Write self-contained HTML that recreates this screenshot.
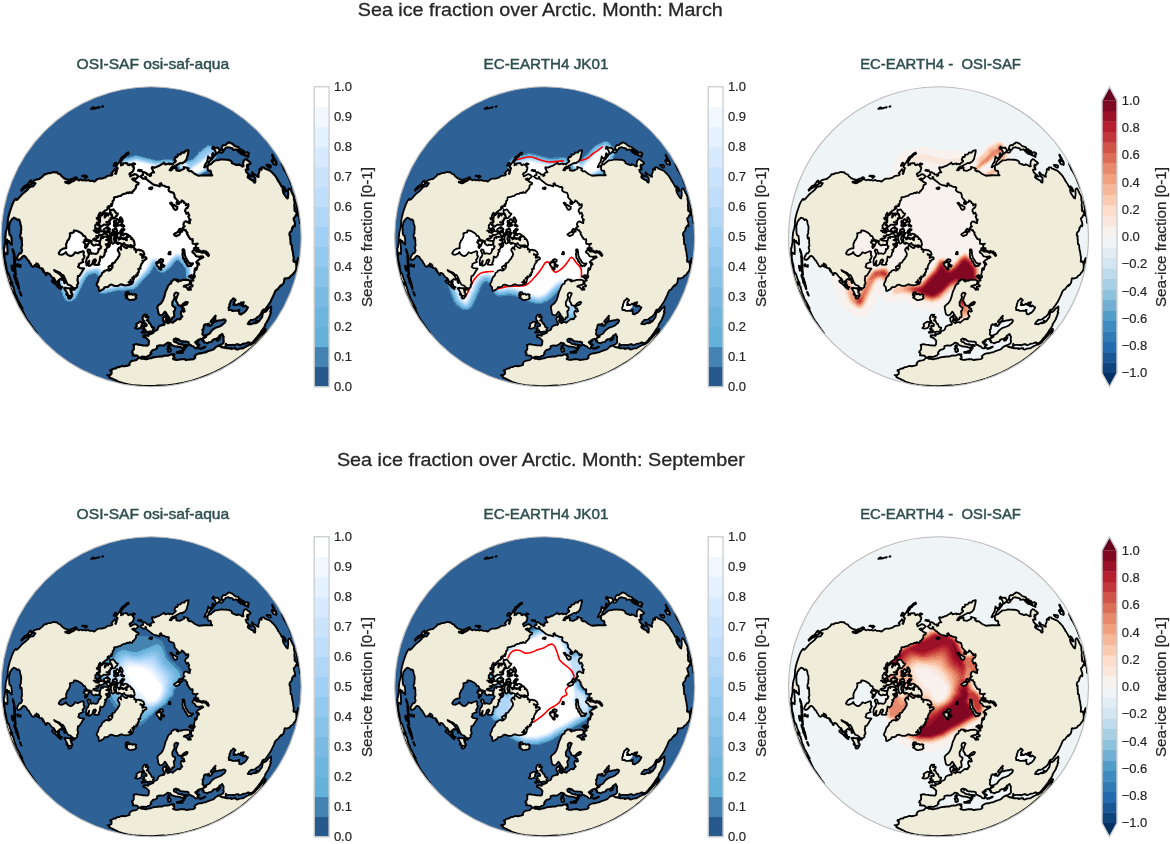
<!DOCTYPE html><html><head><meta charset="utf-8"><title>Sea ice fraction over Arctic</title>
<style>html,body{margin:0;padding:0;background:#fff}svg{display:block}text{font-family:"Liberation Sans",sans-serif;fill:#262626}.t{font-size:18.6px;stroke:#262626;stroke-width:.3px}.p{font-size:15px;fill:#2f4f4f;stroke:#2f4f4f;stroke-width:.45px}.k{font-size:13px;stroke:#262626;stroke-width:.2px}.l{font-size:14.5px;stroke:#262626;stroke-width:.25px}</style></head><body>
<svg width="1170" height="844" viewBox="0 0 1170 844">
<defs><clipPath id="cc"><circle r="150"/></clipPath>
<path id="land" fill-rule="evenodd" d="M-147.8,25.8L-147.7,26L-147.1,28.9L-146.8,30.1L-146.2,32.4L-145.9,33.2L-145.8,32.3L-145.4,32.5L-145.5,31.2L-145.6,30.4L-145.5,29.9L-145.2,30.6L-145.3,29.3L-145.5,28L-145.8,26.8L-146.3,25.3L-146.7,24.8L-146.9,23.5L-146.8,23L-146.9,21.4L-147.3,18.6L-147.4,18.4L-147.4,16.8L-147.4,16.3L-147.2,13.9L-147.4,12.6L-147.4,11.1L-147.1,10.8L-146.8,11L-146.6,9L-146.1,5.9L-145.9,5.4L-146,3.8L-145.9,0.5L-145.6,-1.5L-145.6,-3L-145.1,-5.6L-144.2,-8.6L-143.6,-11.8L-143.4,-16.6L-142.7,-20.1L-141.6,-24.2L-140,-29L-138.5,-33.2L-136.8,-36.4L-135.3,-38L-135,-36.9L-133.7,-37.3L-132.3,-38.9L-128.8,-42.8L-126.8,-44.4L-125.7,-45.3L-124.1,-46.6L-121.6,-49.6L-119.8,-50.3L-118,-50.3L-115.7,-53.5L-117.8,-54.2L-120.1,-52.5L-122.3,-51.4L-124.6,-49.3L-125.9,-49.1L-127.4,-48.1L-128.3,-47.2L-129.8,-46L-129.9,-47L-129.1,-47.8L-126.8,-50.5L-125.4,-51.2L-124.7,-51.2L-122.8,-53.4L-121.5,-55.4L-120.3,-56.3L-120.1,-54L-118.7,-55.1L-116.6,-56.6L-114.1,-57.4L-112.6,-57.6L-111.8,-57.7L-109.8,-59.4L-108.5,-60.4L-106.8,-62.6L-105.5,-62.4L-103,-63.6L-101.7,-63.6L-100.2,-63.9L-99,-64.3L-97.1,-64.8L-95.7,-64.3L-94.4,-64.6L-93.5,-63.5L-92.2,-62.7L-90.7,-62.3L-89.8,-60.8L-88.5,-59.7L-87.3,-58.6L-84.9,-57.5L-82.2,-56.9L-84.1,-54.8L-86,-55L-85.8,-54.3L-82.7,-53.3L-81.8,-53.6L-79.1,-55.2L-77.7,-55.7L-75.3,-57.6L-73.3,-57.2L-72.4,-56.3L-70.4,-57.2L-68.9,-56.4L-66.6,-56.8L-65.7,-56.2L-64.5,-56.3L-63.1,-56.8L-61.5,-55.8L-58.9,-55.9L-56.9,-55.2L-55.9,-55.9L-54.3,-57.4L-52.6,-58.1L-49,-58.2L-45.4,-59.4L-44.1,-60.7L-41.3,-61.2L-39.6,-61.3L-38.7,-62.4L-39.8,-63.6L-38.2,-65.3L-36.4,-67.6L-35.1,-64.5L-36,-63.2L-35.4,-62.8L-34.6,-64.8L-34.4,-66.4L-33.5,-68.6L-34.8,-69.2L-34.5,-71.4L-32.5,-74L-30.9,-76.8L-29.5,-79.4L-27.4,-80.6L-25.3,-82.9L-22.9,-84.3L-22.4,-83.1L-25.1,-81.6L-26.3,-79.9L-27.9,-79.1L-28.3,-78.1L-29.7,-76.1L-30.5,-74.4L-30,-72.9L-30.3,-71.3L-29,-72.6L-28.3,-71.9L-28,-73.4L-25.4,-73.7L-23.9,-73.5L-23.6,-72.1L-22.6,-71.5L-21.1,-72.5L-18.7,-71.4L-18.4,-70.1L-17.2,-69.5L-17.3,-68L-18,-66.6L-18,-65.4L-18.9,-64.9L-20.3,-63.8L-21.2,-63.5L-21.8,-62.5L-21.3,-61.7L-20.6,-61.5L-21,-60.3L-20.4,-60.5L-19.3,-61.4L-18.3,-61.7L-16.9,-62.6L-15.1,-62.3L-12.7,-60.4L-14,-59.1L-15.9,-57.4L-16.7,-57.2L-17,-58.4L-19.1,-57.7L-17.8,-56.6L-16.4,-56L-15.4,-55.1L-14.2,-54.4L-12.6,-53.8L-12.9,-52.4L-14.5,-52L-15.3,-50.5L-15.2,-49.3L-15.7,-48.1L-16.5,-47.5L-17.6,-45.8L-18.4,-45.8L-19,-43.9L-20.5,-44.1L-21.5,-44.7L-21.6,-44.1L-23,-43.6L-23.2,-44.1L-24.6,-43.9L-25.3,-43.2L-27.2,-42.9L-28.8,-42.2L-29.5,-42L-30.2,-40.9L-31.7,-40.7L-32.8,-40.4L-34.4,-39.7L-36.3,-39.6L-37.2,-39.2L-37.1,-37.9L-37.4,-36.6L-38.5,-35.8L-38.7,-34.1L-39,-32.5L-40.2,-32.7L-40.2,-31.9L-39.4,-30.9L-40,-30.6L-42.6,-30.7L-41.9,-28.7L-43.6,-29.7L-43.8,-28.6L-43.4,-27.8L-44.2,-27.1L-45.8,-26.3L-47.6,-24.9L-48.7,-23.9L-48.9,-23L-50.5,-22.4L-51,-24.1L-52.2,-22.7L-53,-20.1L-52.8,-19.1L-54.5,-18.7L-53.7,-17.3L-52.5,-17.9L-51.8,-17L-52.1,-15.9L-52.1,-15.1L-52.8,-14.4L-54.4,-13.9L-54.5,-12.8L-56,-11.4L-55.8,-9.7L-56.1,-8.3L-54.6,-8.3L-54.2,-7.3L-55.4,-5.9L-57.6,-6.2L-55.7,-5.4L-55.8,-4.6L-53.4,-3.9L-51.8,-4.8L-50.7,-5.8L-48,-5.4L-46.4,-4.2L-46.7,-3.2L-48,-2.4L-50.8,-1.3L-52,-2.2L-52.5,-0.5L-55,-0.6L-53,0.7L-54.7,1.9L-56.4,1.7L-58.1,2.6L-56.3,3.6L-54.1,4.2L-51.4,4L-51.5,5.3L-51.6,6.7L-52.7,8.1L-53.8,8.3L-55.4,7.8L-56.5,8.6L-57.7,8.7L-59.6,7L-60,5.6L-59.4,4.4L-60.6,4.1L-62.8,3.3L-63.8,3L-65.5,1.7L-65.8,0.1L-66.7,-0.8L-68.1,-1L-68.5,-2.3L-70.3,-3.9L-72.8,-5.3L-74.5,-6L-77.2,-6.3L-77.6,-4.3L-79.8,-3.9L-81.4,-3.3L-81,-1.3L-81.9,1.4L-82.7,2.9L-83.8,4L-84.3,5.7L-85.1,7.4L-85,9.8L-85,11.5L-86.8,11.6L-88.8,12.3L-90.9,13.7L-92.5,16.5L-91.7,17.7L-89.3,18L-86.4,16.6L-85.3,15.3L-84,17.6L-82.2,18.8L-80.5,19.3L-79,18.8L-77.3,17.4L-76.1,15.5L-73.4,16.5L-71.5,15.5L-68.2,14.4L-67.4,15.1L-67.6,17.2L-67.5,18.5L-66.7,19.4L-67.1,20.6L-68,22.5L-68.7,23.1L-67.9,25.3L-69.9,26L-72.3,27.3L-72.2,28.6L-73.1,30.1L-71.1,31.4L-68.3,31.6L-67.1,31.9L-68.5,33.7L-70.1,36.5L-71.8,39.1L-73.3,39.3L-73.4,41.5L-73.8,43.3L-73.1,45.7L-73.1,46.9L-74.2,48.4L-74,49.5L-74.1,50.4L-76.1,51.9L-77.3,51.3L-78.6,50.8L-80.6,48.8L-83.2,48L-84.7,45.6L-86,42.2L-87.1,39.9L-88,38.4L-89.8,37.8L-91.4,36L-94.8,34.6L-97.1,33.3L-96.3,34.5L-93,36.2L-90.1,39L-88.9,41.3L-89.1,43.1L-90.9,42.2L-92.6,43.6L-93.7,44.7L-93.5,47.2L-91.7,49.8L-89,50.4L-90.1,51.2L-90.2,52.5L-92.3,51.2L-95.3,47.9L-96.7,46.7L-98.9,45.3L-99.3,44L-97.9,43.2L-95.2,45.6L-96.4,42.9L-97.5,41.2L-98,41.6L-99.5,40.2L-100.8,38.5L-102,36.9L-103.3,36.4L-103.8,36.1L-104.8,36.5L-105.4,37.3L-105.1,38.1L-104.7,37.7L-104.8,38.4L-105.4,38.4L-106,37.3L-106.3,36.4L-107.1,35L-107.9,33.2L-108.8,31.8L-107.6,34.6L-107.8,35.2L-109.1,32.7L-109.5,31.4L-109.8,31.5L-111,31.4L-112.7,30.4L-112.3,30.1L-112.1,29L-112.8,29.6L-113,30.1L-113.6,30.2L-114.4,29.8L-115.9,29.1L-115.8,28.9L-114.7,29.2L-114.3,28.1L-113,27.5L-113.8,27.3L-114.7,28L-114.8,26.6L-115,28L-116.4,28.4L-116.4,29.1L-116.8,29.3L-118.2,30.1L-119.7,29L-120.6,27L-121.8,25.7L-122,24.6L-122.8,23.7L-123.3,23.5L-124.7,21.3L-125.6,20.1L-126.6,19.4L-127.6,19.1L-128.4,19.6L-129.3,20.5L-130,21.8L-130.6,21.9L-131.8,23L-133,23.2L-133.8,22.6L-134,22L-134.1,20.8L-133.5,19.5L-132.8,18.2L-132,16.9L-131.5,16.4L-130.6,16.7L-130.1,16.2L-129.2,14.3L-129.1,13.3L-129.9,11.1L-129.9,10.7L-129.3,9.5L-129.1,8.1L-129.4,5.6L-129.3,3.6L-129.5,1.8L-129.6,0.9L-130,1.4L-130.5,1.4L-130.8,1.8L-130.9,1.4L-130.8,0.5L-131.1,-0.5L-131,-2.1L-130.2,-3.6L-130.3,-5.7L-130,-7.3L-130,-8.6L-130.1,-10.7L-130.9,-12.8L-131.2,-15.2L-131.7,-16.4L-132.1,-17.2L-132.9,-17.3L-133.5,-17.1L-133.9,-16.7L-134.8,-17.7L-135.5,-18.3L-136.9,-18.8L-137.4,-19.1L-137.9,-18.6L-138.5,-18L-139.3,-17.6L-140.1,-16L-140.7,-15.5L-141.2,-14.6L-141.7,-11.9L-142.2,-10.9L-142.1,-8.7L-142.1,-6.9L-142,-5L-141.9,-3.5L-141.6,-2L-141,-1.2L-140.3,-1.2L-140,-0.7L-139.8,1L-139.5,3.7L-139.5,5.6L-139.4,7.1L-139.5,7.8L-140,7.8L-140.5,6.4L-141.2,5.9L-141.3,6.4L-141.7,5.9L-142.3,5.5L-142.2,4.7L-142.2,4.2L-142.5,4.7L-142.9,4.2L-143.4,4.5L-143.8,4L-144.2,2.8L-144.3,4.5L-144.1,6L-144.1,7.8L-143.8,10.1L-143.8,12.1L-143.6,14.1L-143.8,15.6L-143.8,17.4L-144.3,17.2L-144.9,16.5L-145.6,16.6L-146,16.1L-146.3,15.9L-146.6,17L-146.6,19.3L-146.8,20.1L-146.6,21.4L-146.6,22.2L-146.3,23.4L-146.1,24.4L-145.7,26L-145.5,26.7L-145.2,28.2L-145,29.5L-144.9,30.5L-144.7,32.3L-144.4,33.9L-143.7,35.6L-143.4,36.6L-142.7,36.9L-142.1,38.3L-141.7,39.8L-141,42L-140.2,43.9L-139.7,44.9L-139.2,45.8L-138.8,46.7L-138.8,47.5L-139.1,47.1L-139.3,46.9L-139.8,45.7L-139.7,46.5L-140,46.6L-140.6,45.4L-140.6,46.5L-140.3,47.5L-139.7,48.1L-139.9,47.1L-139.6,47L-138.3,49.8L-138.2,49.5L-137.7,50.4L-137.8,51.2L-137.2,52.9L-136.8,54.7L-136.9,54.8L-136.1,56.9L-134.9,59.5L-134.5,60.8L-133.7,62.6L-132.9,64L-132.9,63.9L-131.4,66.7L-130,69.4L-131.1,67.7L-131,68.5L-130,70.3L-129.2,72.2L-129.3,72.6L-128.7,73.7L-128.3,74.6L-127.5,76.3L-126.9,77.7L-127,77.8L-126.4,78.7L-125.3,81L-123.6,83.7L-122.2,85.6L-120.7,87.8L-119.1,90.1L-117.5,92.5L-117.4,92.7L-116.8,93.5L-116.5,94L-115.7,95.4L-114.8,96.4L-114.7,96.6L-115.6,95.6L-114.9,96.4L-114.6,96.2L-119.5,90L-124.1,83.6L-128.3,77L-132.2,70.2L-135.7,63.1L-138.8,55.9L-141.6,48.5L-143.9,41L-145.9,33.4L-147.4,25.7ZM-52.3,54.1L-52.7,50.4L-54.5,48.5L-54.4,46.9L-53.2,44.8L-52.3,41.4L-51.3,40L-49.8,38.5L-49,36L-47.4,35.3L-47,34.2L-44.1,33.2L-42.6,33.9L-41.6,33.6L-40,32.5L-41.2,32.2L-41.9,32.1L-42.6,31.5L-42.7,30.2L-41.3,29.1L-40.1,28.7L-39.6,29.4L-38.9,31.1L-38.7,29L-38.5,28L-39.2,27.4L-39,26.5L-36.6,25.9L-36.1,25L-35.2,23.6L-33.3,21.4L-32.9,20.1L-32.1,19.6L-31.6,17.3L-32,16L-32.9,14.6L-33.5,13.2L-33.1,12.2L-32,10.8L-30.7,11.9L-30.1,12.9L-30.5,10.5L-29.9,9L-28.9,8.7L-27,10.2L-25.1,11.4L-24.1,11.1L-23.9,9.7L-22.8,9.6L-20.6,10.2L-20.1,10.6L-19,9.8L-18.1,10.3L-17.1,11L-16.5,11.9L-16.9,12.7L-15.3,12.6L-15.3,13.8L-15.2,14.4L-15.2,15.4L-14.9,13.9L-14.1,13.2L-12.2,12.9L-11.4,13.6L-10.6,13.3L-9.6,13.7L-7.7,15.1L-6.8,17.8L-7.8,18.5L-9,18L-10.8,17.3L-10.9,17.8L-9.6,18.2L-9,19.4L-8,19L-8.1,20.1L-9,21.1L-7.8,20.8L-5.8,20.3L-4.8,21.1L-4.8,22.2L-6.9,23.5L-7.3,24.1L-8.7,24L-7.8,24.6L-8.9,26.1L-9.8,27.4L-10.9,30.3L-10.7,32L-11.6,31.9L-12.9,32.3L-12.2,33.9L-12.9,36.1L-13.5,35.8L-13.5,38.3L-15,38L-14.6,39.2L-15.1,39.8L-16.3,39.9L-17.3,39.5L-17,41.5L-17.4,42.4L-18.5,40.9L-19.1,41.4L-18.3,42.3L-17.9,44.1L-18.4,46L-20,45.9L-20.2,44.7L-20.6,43.2L-21.1,44.7L-22.6,45.5L-20.4,46.5L-19.4,47.2L-22.4,48.1L-25.6,48.7L-28.6,48.1L-29.5,47.5L-30.8,47.8L-33.3,49.1L-36.2,49.2L-36.9,48.9L-38.3,48.4L-39.8,47.8L-41.6,48.4L-42.7,49.7L-44.1,50.4L-46.7,50.5L-47.6,52.2L-49.3,53.1L-51.4,54.3ZM-51.9,27.7L-53.5,28.2L-56.9,27.9L-56.6,26.3L-55.2,23.8L-55.9,22.6L-57.3,23L-58.2,24.6L-58.6,26.5L-58.9,27.1L-60.7,28.7L-62.4,29.1L-62.6,27.5L-62,24L-63.1,26.3L-63.8,28L-64.6,28.5L-65.1,25.1L-64.6,22.2L-63.9,20.5L-63.2,20.6L-62.6,18.7L-61.9,16.8L-62.5,17L-63.8,13.9L-63.1,12.7L-61.3,13.1L-60.8,15.2L-59.8,17.1L-59.2,16.6L-57.9,16.7L-55.3,17.2L-54.4,16.7L-53.6,16.1L-52.8,14.4L-52.6,12.2L-52,12.8L-50.5,11.4L-50.7,10.6L-49.9,9.7L-50.7,9.4L-51.4,7.9L-51.2,4.6L-50.5,2.6L-50.3,1.1L-49.3,0.4L-48.3,1.3L-48.3,0.1L-45.9,-0.2L-43.6,0.5L-42.6,1.2L-41.7,3.1L-43.3,2.6L-45,3.3L-42.9,3.8L-41.6,5.6L-44,7.3L-45.5,7.5L-44.6,8.8L-43.5,9.4L-44.4,11.4L-45.1,12.8L-46.3,13.2L-45.1,14.5L-46.5,15.8L-46.7,18.1L-47.3,19.2L-49,20.8L-50.8,19.7L-51.3,22.4L-51.3,24L-52.6,26.4ZM-61.5,5.2L-62.7,5.5L-62.2,6L-62.8,6.7L-63.4,8L-63.9,9.4L-65.1,9.6L-64.7,10.5L-65.5,11.4L-66.3,10.5L-66,8.7L-65,7.9L-66.3,6.9L-67.8,5.3L-66.5,4.8L-66.8,3.3L-65.6,4.2L-63.7,4.2L-61.6,4.4ZM-43,-11.8L-47.3,-12.2L-50.4,-9.8L-51.3,-10.1L-51.2,-11.5L-52.3,-11.2L-53.1,-11.7L-52.3,-13.2L-51.2,-14.6L-51.1,-15.7L-51.3,-17.7L-50.5,-21.7L-49.2,-21.7L-48,-22.6L-47.8,-23.4L-45.7,-23.6L-45.6,-22.9L-46,-21.6L-46.5,-20.4L-46.5,-19.2L-45.4,-20.5L-44.8,-22.3L-44.3,-23.4L-43.2,-23.3L-43.2,-21.2L-42.6,-22.4L-41.2,-23.2L-40,-21.8L-39.4,-20.9L-39,-18.4L-39.8,-17.9L-40.6,-18.7L-40.6,-16.8L-42.2,-16.2L-41.3,-15L-42.4,-14.6L-44.9,-14.7L-43.9,-14L-41.4,-13.8L-41.3,-13L-41.8,-12.4ZM-37.7,-27.3L-37.1,-26.5L-36,-25L-34.9,-23.5L-33.3,-23.2L-34.3,-21L-35.3,-20.5L-36.2,-18.9L-37.2,-18.6L-38.5,-18.3L-38.7,-19.5L-39.4,-22L-40.4,-23.8L-41.2,-24.3L-41.1,-26.8L-40.1,-26.6ZM-41.8,-6.8L-41.5,-5.4L-42.3,-5.3L-43.4,-6.1L-44.6,-5.1L-46.8,-5.5L-47.6,-7L-47.2,-7.7L-46.4,-8.2L-44,-9.8L-43.3,-9.6L-43.9,-8.1L-42,-8.5L-41.2,-7.6ZM-44.3,-2.5L-46.2,-3.5L-45.9,-4.3L-43.9,-4.6L-42.6,-4.5L-41.4,-4L-41,-3.2L-41.1,-1.7L-41.6,-0.4L-43.9,-1.5ZM-50.5,-7.3L-51.1,-6.5L-51.7,-6L-53.3,-5.2L-53.9,-6L-53,-7.1L-53.3,-7.9L-52,-9L-51.4,-8.1ZM-38.5,6.9L-39,6.5L-39.9,5.7L-39.6,4.7L-40.2,2.7L-40.3,1.3L-40.1,0.1L-39.3,-1.6L-37.8,-1.8L-36.5,-1.8L-35.4,-2.4L-35.1,-3.7L-34.1,-4.2L-33,-3.9L-33.4,-2.7L-34.2,-2.2L-34.2,-1L-35.1,-0.4L-36,-0.6L-36.7,0.1L-37.3,0.5L-37.3,1.4L-37.5,2.4L-36.9,3.4L-36.5,4.6L-36.6,5.7L-37.5,6.5ZM-17,9.1L-19,9.2L-19.9,8.5L-20.5,8.4L-20.2,9.2L-22,9L-22.9,8.6L-25.1,8.6L-25.9,7.8L-26.5,7.7L-27.1,6.3L-27.2,7L-27.8,6.8L-28.9,7.5L-29.8,7.3L-30.7,6.6L-31.8,6.5L-32.7,5.9L-33.2,6.1L-33,7.1L-33.5,7.2L-35.3,5.8L-34.9,4.2L-35.4,2.4L-35.2,1.5L-35,0.3L-33.9,0.2L-33.2,1.3L-31.4,0.9L-31.2,1.3L-32.3,2.8L-30.6,2L-30.1,1.1L-29.2,1.5L-28.5,2.3L-27.7,2.4L-26.8,1.6L-25.4,1.4L-25.4,2.6L-25.6,3L-24.5,3.5L-24.4,2.5L-24.7,1L-23.7,0.2L-22.7,-0.1L-22,-0.5L-21.1,-0.6L-20.6,0L-20.6,0.4L-20.1,1.1L-19.1,1.5L-19.2,1.9L-20,2.4L-18.4,2.5L-18.1,2.8L-17.7,3.3L-17.3,4.2L-17.5,4.5L-17,5.3L-16.8,5.9L-16.8,6.6L-16.7,7.5L-16.6,8.2ZM-24.4,-2.6L-23.6,-2.2L-23.5,-1.8L-22.9,-1.9L-22.7,-1L-24.2,-0.5L-24.8,0.2L-25.3,1L-26.8,1.4L-27.8,2L-28.6,1.4L-30.4,0.5L-30.7,-0.4L-30.4,-1.5L-29.2,-2L-28.3,-1.9L-27.6,-1.5L-27.5,-2.4L-26.7,-2.9L-25.4,-3ZM-34,-11.2L-34.9,-11.2L-34.7,-10.5L-35,-10L-36.2,-10.2L-37.3,-10.9L-36.9,-13.2L-37.3,-15.2L-36.9,-16.2L-36.2,-16L-35.6,-14.2L-34.8,-17.2L-33.9,-17.8L-32.1,-15.9L-31.6,-15L-33.3,-13.8L-35,-13.3L-35.6,-12.3L-33,-12.4L-32.3,-11.5L-32.7,-11ZM-35.2,-4.8L-36.7,-5L-38.4,-5.5L-38.5,-6.7L-37.9,-7.3L-36.6,-7.1L-36.4,-8.1L-34.7,-7.7L-34.2,-6.2L-34.4,-5.2ZM-28.9,-14.2L-30.5,-15.1L-31.2,-16L-30.9,-16.4L-31.3,-18L-31.2,-19.1L-30.3,-19.5L-29.1,-17.6L-28.4,-15.8L-28.8,-15ZM-29.9,-5.3L-31,-5.3L-30.6,-6.1L-29.7,-6.8L-29.1,-7.9L-28.5,-7.2L-27.8,-7.7L-26.8,-7.4L-27.3,-6.6L-28.6,-5.5ZM-30.8,-3.1L-31.3,-4L-30.6,-4.4L-29.6,-4.5L-28.6,-4.3L-28.9,-3.7L-28.9,-3.4L-30,-2.9ZM-38.7,-2.4L-39.7,-2.9L-39.4,-3.9L-38.8,-4.6L-37.6,-4.1L-37.2,-3.2L-38,-2.6ZM-42.4,10.3L-43.1,10.5L-43.1,9.7L-43.3,8.9L-43.8,8.1L-43.7,7.9L-42.6,6.8L-41.6,6.7L-41.4,7L-41.3,8.7ZM-30,-11L-30.3,-12.3L-29.3,-12.7L-28.7,-12L-28.7,-11.2L-29.3,-10.6ZM-27.9,-10L-28.2,-10.8L-27.9,-11.5L-27.5,-11.4L-27,-10.6L-27.2,-10.4ZM-78.9,53L-81,53L-79.8,53.6L-79.6,54.7L-80.4,54.6L-80,56.2L-79.1,56.5L-78.7,58.2L-80.2,58.7L-79.2,59.4L-79.8,60.2L-80.6,61.5L-82.3,61.9L-82.8,61.3L-83.3,60.1L-81.8,59.5L-81.8,59L-84.4,58.2L-85,57.3L-83.5,57.8L-84.1,56.2L-85.1,54.6L-87,51.6L-86.6,51.2L-85.4,51.7L-85.4,50.9L-83.6,51.5L-80,51.2L-78.4,51.5L-77.2,52.2L-76.7,52.9ZM-82.9,-54.9L-82.6,-55.7L-80.2,-57.7L-79.3,-57.5L-78,-58.4L-77.3,-58.3L-75.9,-59.5L-74.8,-59.3L-74.3,-58.9L-75.8,-57.8L-76.7,-57.1L-77.7,-56L-78.7,-55.9L-79.9,-55.7L-81.5,-54.8ZM-64.7,-59.7L-65.6,-58.6L-67.1,-60.5L-69.2,-60.6L-68.7,-61L-67.5,-61.2L-66.3,-60.9L-65.4,-61.1L-64.5,-60.6L-64,-60.1ZM-37,-72.6L-36.1,-74L-35.2,-73.8L-34.4,-72.9L-35.3,-71.7L-35.9,-71L-36.7,-70.8L-37.6,-71ZM-9.6,-65.5L-10.3,-65.9L-11,-65.5L-12,-66.1L-13.2,-66.1L-13.1,-66.3L-12.4,-67L-11.4,-66.7L-10.9,-66.3L-9.9,-66.7L-9.6,-66.5ZM-18.4,-72L-18.7,-72.9L-18,-73.4L-17.1,-73.3L-16.1,-72.8L-17.3,-72ZM-58.8,-129L-58.4,-129.3L-57.9,-129.4L-57.8,-129.2L-57.3,-129.1L-57.4,-128.9L-57.7,-128.6L-57.5,-128.5L-57.5,-128.4L-59.1,-128L-60.2,-127.9ZM-56.9,-128.3L-56.2,-128.7L-55.4,-128.7L-55.6,-128.5L-56.4,-128.2L-57,-128.1ZM-53.1,-129.2L-53,-129.3L-52.1,-129.7L-51.7,-129.6L-52.2,-129.2L-52.5,-129.2ZM-49.1,-130.2L-48.8,-130.3L-48,-130.5L-48.1,-130.4L-48.4,-130.1L-48.9,-130ZM-55.2,-128.5L-55.1,-128.7L-54,-129.1L-54.1,-129ZM-136.6,18.5L-136.4,20.6L-136.1,22.5L-136.1,24.7L-136.3,25.7L-135.7,28L-135.7,28.9L-135.9,31L-136,32.6L-135.8,33.4L-135.6,34.8L-136,34.7L-135.5,36.6L-135.4,38.3L-135.7,38.1L-136.2,36.6L-136.6,35.1L-137,33.4L-137.9,29.9L-137,31.4L-137,30.4L-137.3,28.9L-137.2,27.9L-136.8,27.3L-137.1,25.9L-137.2,23.7L-137.1,22.9L-137.5,19.8L-137.4,18.8L-137.1,19.8L-137.3,17.3L-138,15.7L-138.1,14.8L-138.4,14.4L-138.6,13.2L-138.6,12.2L-138.2,13.6L-137.8,14L-137.5,14.9L-137.2,16.1L-136.8,18ZM-135,40.8L-134.6,42.2L-134.1,44.3L-133.8,44.5L-133.2,46.4L-133,47.9L-132.7,48.4L-132.8,49L-132.3,50.3L-132.6,50.2L-132.2,51.3L-132.1,52.6L-132.8,51.8L-133,50.6L-133.7,48.8L-134.3,47.6L-134.7,46.4L-135.5,45.6L-135.4,44.8L-135.8,43.1L-136.6,40.6L-137,39.6L-137.2,38.2L-136.9,38.3L-136.4,40.5L-135.9,42.3L-135.4,43.1L-135.4,41.9L-135.1,41.9L-135.4,40.4ZM-138.9,30.6L-138.6,32.3L-138.5,33.6L-138.6,34L-139,32.4L-139.3,31.7L-139.5,30.2L-139.6,28.8L-139.3,29.1ZM-130.3,57.2L-129.8,58.4L-129.8,58.9L-130.2,58.4L-130.9,56.7L-131.5,55.3L-131.3,55.1L-131,55.4ZM-129.7,69.9L-129,71.2L-128.7,71.6L-129,71.8L-130.2,69.9L-130.3,69.4L-129.9,70ZM-133.8,28.9L-133.7,28.4L-133.6,27.4L-132.9,27.8L-132.7,28.5L-133.5,29.6ZM-130.7,30.2L-131.6,29.9L-131.6,29.4L-131,29.5L-130.7,28.3L-130.6,28.2ZM-91.9,44.8L-92.4,45.8L-92.1,47.1L-91.3,48.6L-92.4,48.1L-92.8,47.5L-93.1,45.1L-92.7,44.4ZM-87.3,41.6L-86.9,42L-86.3,44.3L-86.2,46.2L-86.6,46.4L-87,45.7L-87.4,43.4ZM24.8,147.9L24.2,148L25.5,147.7L25,147.7L24.4,147.6L23.1,147.7L22.1,147.9L19.5,148.3L18.2,148.4L15.9,148.7L14.1,148.8L13,148.7L11.4,148.7L7,148.9L4.9,149.1L2.8,149.2L-1.3,149.3L-2.8,149.4L-5.1,149.4L-7.5,149.2L-10.4,149L-12.1,148.9L-15.1,148.7L-19.5,148.3L-20,148.2L-23.4,147.6L-25.7,147.1L-27.9,146.5L-29.4,146L-31.9,145.3L-33.3,144.8L-33.7,144.6L-34,144.2L-35,143.7L-35.9,143.3L-37.2,142.9L-37.4,142.6L-38.4,142.1L-39.7,141.6L-40.7,141.2L-41.2,140.9L-41.2,140.8L-41.9,140.5L-42.1,140.3L-42.2,139.8L-41.9,139.6L-42.7,138.9L-43.9,138.3L-42.9,138.5L-41.5,138.4L-40.9,138.2L-40.9,137.7L-40.2,137.5L-39.7,137L-39.7,136.1L-39.8,135.6L-39.5,135.2L-39.9,134.6L-41.1,133.9L-40.9,133.5L-40.6,133.1L-39.7,133.1L-38.8,132.8L-38.7,132.5L-37.8,132L-36.3,131.7L-35.6,131.8L-34.7,131.3L-34.6,130.8L-33.5,130.3L-31.9,130.3L-30.2,129.5L-28.9,129.2L-26.8,129.5L-24.9,129.1L-23.7,128.9L-21.6,128.2L-21.8,126.4L-20.8,125.4L-20.4,124.8L-18.9,124L-16.6,123.7L-14.9,123.3L-13.3,121.9L-12.6,121.1L-11,121.2L-9.8,122L-7.8,122L-5.6,122.5L-4.6,122.5L-2.6,121.8L-0.3,121.5L1.1,120.9L3.1,120.4L6.6,120L10,119.6L11.1,119.8L13,118.9L15.3,118.7L16.2,118.9L17.6,118.6L19.7,117.6L21.1,117.5L21.3,118.3L22.9,117.4L23.1,117.7L22.2,118.7L22.3,119.4L23.1,119.6L23.1,121L21.8,121.9L22.4,122.6L23.5,122.5L24.1,123L25,123.1L27.6,123L28.5,122.7L30.3,122.5L33.4,122.4L34.7,123.3L36.7,123L39.9,122.6L42.4,122.4L43.3,121.7L44.1,120.8L43.2,120L43.7,119.1L44.9,118L46.3,117.2L49.2,116.4L50.1,116.6L50.8,116.3L51.6,116.2L53.7,115.5L54.3,115.7L57,114.3L59.1,113.7L61.2,113L62.2,112.7L63.5,111.5L64.2,110.7L65.8,109.6L67.2,108.9L68.1,109.2L68.3,108.5L70,107.8L71.5,106.9L72.2,106L72.5,105.3L72.5,104.4L72.2,103.3L72.3,102.8L72.3,101.4L72.5,99.9L71.7,99L71.7,98.2L70.7,98.1L71,97.2L70,98L68.4,98.7L67.7,100.3L65.1,102.2L63.2,102.4L61.3,103.5L61.2,104.3L60,105.2L57.8,105.5L55.8,106.6L54,105.8L52.3,105.6L52.6,104.1L51.1,103.9L52.3,101.5L55,100L55.1,98.5L58.5,96.8L59.9,94.6L61.5,92.9L64.2,91.1L67.6,90L70.3,88.8L71.9,87.2L73.3,86.2L74.5,84L74.2,83.3L73,82.7L71.8,82.9L70.8,83.5L70,83.5L67.1,83.8L65,84.6L63.1,84.7L64,83.7L64.2,81.5L62.9,81.5L64.5,79.3L64.2,79L63.2,80.2L62.2,81.2L61.6,82.4L60.3,83.5L59.4,85L60.2,85.9L61.2,85.7L62.6,84.5L62.7,85.3L61.3,86.7L59.8,89L58.7,89.3L58.6,88.3L56.6,89L56.7,88.5L57.8,87L57.1,87L54.5,88.1L54,87.5L52.7,88.6L52.7,89.8L52.1,91.8L52.4,92.1L51.8,92.9L51.2,93.1L51.8,95.2L51.3,96.4L51.3,97.8L52.3,98.4L52.9,98.9L54.6,98.6L54.5,99.1L52.5,100.3L52,101.2L50.9,102.7L50,102.3L49.9,102L48.8,102.5L47.8,102.7L45.7,104.1L47.4,104.5L46.6,105.1L45.6,105.6L44.2,105.2L44,105.7L44.8,106.4L46.1,106.7L45.5,107.4L46.9,107.6L48,107.6L48.4,108.4L46.5,108.8L47.3,109.3L46.2,110L47.5,111L46.2,111.5L44.3,111.6L43.1,110.7L42.4,109.8L41.4,109.4L40.1,108.9L39.8,108.5L39.4,108.5L39.3,108.1L38,108L37.6,107.3L37.4,106.1L37.4,105.5L37,105.4L36.6,105.4L35.9,105L35,104.9L33.1,104.9L31.8,104.6L30,104.6L28.1,103.7L28.5,103.5L27.4,103L27.2,102.4L26,102.4L25.7,103.3L25,102.8L24.9,102.2L25.3,101.9L23.8,101.9L22.5,102.9L22.8,103.8L22.7,104.4L23.5,105.1L25.4,105.6L26.7,106.8L29.1,107.7L30.6,107.3L31.2,107.5L30.7,108L32.6,108.1L34.1,108.2L36,108.5L36.3,108.7L36.2,109.4L34.9,109L33.1,109.2L32.6,110.5L34.2,110.7L34.2,111.6L33.5,111.9L32.8,113.6L32,113.9L31.9,113.5L32,112.5L32.4,112.1L31.3,111.4L30.5,110.7L29.7,110.7L28.9,110.2L27.6,110.2L26.6,109.7L25.2,109.9L23.5,109.5L21.5,108.7L20,108L19.1,106.3L18.2,106.3L16.6,105.9L15.8,106.3L14.8,107.3L14,107.6L12.4,108.8L8.7,108.6L5.9,109.4L5.8,110.5L5.9,111.5L4.1,112.7L1.6,113.2L1.4,113.7L0.2,114.7L-0.6,116.1L0.2,117L-1,117.7L-1.4,118.8L-3,119.1L-4.5,120.2L-9.2,119.9L-10.5,120.4L-11.4,120.9L-12.4,120.7L-13.1,120.1L-13.6,119.1L-15.5,118.6L-16.4,118.9L-17.5,118.5L-18.6,118.6L-18.1,117.4L-18.1,116.4L-19,116.1L-19.4,115.4L-19,114.4L-18.1,113.9L-17.9,113.2L-17.3,112.3L-17.3,111.6L-17.5,110.9L-17.5,110.3L-17.2,109.1L-17.9,108.2L-15,107.3L-12.8,107.9L-10.2,108.2L-8.3,108.7L-6.7,108.7L-3.6,108.9L-2.6,107.8L-2.2,104.2L-4,102.1L-5.2,101.1L-7.9,100.2L-7.9,98.7L-5.7,98.4L-2.8,99.1L-3.3,96.8L-1.7,97.7L2.2,96.1L2.7,94.5L4.1,94L5.4,93.5L6.2,92.9L7.4,89.8L9.4,88.7L10.7,88.6L11,88.1L12.3,87.8L12.6,88.3L13.5,87.1L13,86.3L12.8,85.2L12,84.1L11.6,81.9L11.8,81.3L12.1,80.6L13.3,80.2L13.7,79.5L14.7,78.7L14.9,79.8L14.6,80.6L14.9,81.2L15.7,81.4L15.5,82.3L15,82.1L14.3,83.8L14.8,84.8L15,85.6L16.6,85.8L16.7,86.5L18.2,85.8L18.9,85.1L20.8,85.5L21.6,86L22.5,85.1L24.5,83.6L26.1,82.3L27.7,82.2L28,82.6L29.4,82.2L29.4,81.2L31.1,79.8L30.1,78.2L29.6,76.7L29.7,75.1L30.7,73.9L32.3,75L33.4,74.5L32.9,72.9L32.5,71.6L32.2,72.1L31.1,71.7L30.4,70.5L31.7,69.3L33.1,68.3L34.6,68L35.7,67.3L36.5,65.5L34.8,65.2L32.8,66.4L31,68.1L29.3,69.4L28.1,68.6L26.7,68.3L26.1,66.1L24.8,64.4L24.8,62.9L25.3,61.2L26.6,57.8L27.1,57L26.5,56.2L24.7,55.8L23.3,57.1L22.9,59L23.6,60.3L22.6,62.7L21.1,65.4L21.2,68.8L22.5,70L24.1,70.8L23.7,73.6L22.5,74.5L23.1,78.3L22.9,80.5L21.1,80.7L20.7,82.6L19.1,83.1L18.2,81.2L16.5,79L14.8,76.1L13.7,75L11.5,78L9.7,78.7L7.7,77.8L7,75.4L6.1,70.2L7.1,68.6L10,66.3L11.8,63.5L13.1,59.9L14.4,54.8L15.5,52.6L17,48.9L18.5,47.2L19.9,46.8L20.3,44.4L21.7,43.8L22.8,42.6L26.1,42.9L25.4,44L27.1,44.9L27.4,43.6L29.5,44.1L31.9,43.1L36.4,43L37.8,43.4L38.9,44.5L38.8,46.2L37.9,47.8L33,49.1L32.6,49.8L35,50.3L35.7,51.1L37.1,53.1L38.7,52.8L39.8,52.8L39.2,51.8L38.1,51.4L38.1,50.2L41.1,49.7L41.5,48.7L39.8,47.8L40.1,44.4L40.9,43.9L42.2,43.8L41.5,42.2L39.9,41.8L39.3,40.4L37.7,39.8L40.2,38.4L41.5,39L40.9,40.1L41.8,41L43,41L43.7,39.5L42.7,38.3L43.2,35.9L43.6,32L44.1,31.5L44.8,33.1L45.7,32.3L45.4,31.3L46.3,29.7L46.2,28L48,27.8L47.2,26.1L45.5,26.2L45,25.4L46.9,23.4L48.2,22.6L52.1,20.5L51.1,19.4L50.6,20.3L49.1,19.7L48.4,20.6L47.5,19.9L45.5,19.6L44.8,19.3L43.3,17L41.4,15.7L41.1,15L42.4,13.3L43.8,13.5L45.4,14.9L46.4,14.6L48.1,14.9L51.2,16.1L53,15.5L54.4,16.4L57.1,19.3L57.8,18.3L57.1,17.6L56.8,16.4L55.7,15.8L54.9,14.6L53.4,14.8L51.9,14L51.5,14.9L50.1,14.7L47.9,13.4L45.7,13.9L44.5,12L42.7,11.7L42.8,11.3L44.2,11.3L46.4,12.2L47.1,11.4L45.3,11.4L44.6,9.8L44.8,8.2L46.5,6.9L44.3,7.3L41.6,7L41.3,5.6L41.6,3.9L41.4,2.3L40.1,2.8L38.5,1.9L38.5,1.1L37.2,-0.2L36.8,-1.9L36.1,-2L35.7,-3.7L36.2,-4.2L34.7,-5.4L34.6,-6.6L33.5,-6.5L32.3,-6.9L31,-7.9L31.5,-9.1L32.3,-8.5L32.3,-9.9L33.5,-10.4L32.7,-10.7L32.2,-12.4L32.8,-14.1L33.5,-15L34.7,-15.4L35.7,-15L37.7,-13.8L38.6,-13.6L38.6,-14.5L38.8,-15.8L38.1,-16.2L39.4,-17.2L38.7,-17.2L37.9,-18.1L37.1,-20.4L38.1,-21.1L36.8,-24.1L35.1,-23L34.6,-24.6L33.9,-25.5L34.2,-27.3L35.2,-28.6L36.3,-28.9L37.2,-30.9L37.1,-32.6L34.6,-31.4L34.5,-33.2L33,-33.7L32.4,-35.4L31.5,-35.3L30.7,-36.4L29.6,-34.3L28.2,-34.1L23.3,-39.5L23.4,-41.1L22.4,-43.9L19,-44.9L17.6,-45.9L17.3,-47.1L18,-48.8L17.2,-49.8L15.9,-49.7L14.3,-50.1L12.8,-51L11,-51.2L9.9,-53.6L8.6,-53L9,-51.4L8.5,-50.3L5.7,-51.4L3.9,-51.5L1.3,-52.8L0,-53.9L-2.4,-55.7L-5.1,-57.9L-5.2,-59.4L-5.9,-59.9L-5.5,-58.2L-8.3,-58.2L-10.7,-60.1L-9.8,-61.3L-8.1,-61.8L-8.4,-64.1L-8,-64.7L-6.9,-64.7L-6,-64L-4.5,-63.4L-4.1,-62.4L-3,-62.1L-1.8,-62.4L-1.2,-61.6L-1.4,-60.7L-0.1,-61.3L-0.6,-62.4L0,-63.4L1.5,-64.5L2.9,-64.3L1.9,-65.5L1.3,-67.5L0.7,-68.1L0.6,-69.1L0.9,-69.7L3.2,-69.1L6.7,-70.6L7.8,-70.8L9.9,-72.2L12,-73.3L12.6,-74.2L14.2,-72.3L17.9,-73.3L18.3,-72.4L19.7,-73L21.3,-72.2L22.2,-73.5L24.4,-75.1L24.6,-76L23.2,-76.9L24.3,-79.9L25.7,-79.6L26.8,-81.1L26.5,-82.2L29.4,-82.4L30.7,-84.4L33.1,-84.1L34.3,-85.9L37.2,-86.7L37.2,-85.2L36.6,-82.2L35.4,-77.5L33.6,-75L31.9,-74.3L31.4,-73.4L29.3,-73.8L26,-72L23.1,-70.5L20.4,-69.5L18.5,-66.6L20,-66.4L21.2,-68L25.1,-69.4L25.1,-66.4L28.4,-65.9L32.9,-68L32.5,-69.8L35.4,-69L37.4,-68.2L36.5,-66.8L38.1,-65.5L40.1,-65.6L43.3,-63L47.3,-61L53.5,-61.5L61.1,-61.4L59.6,-63.2L59.9,-64.7L59.2,-66.1L57.7,-65.9L56.5,-67.1L56.3,-70.4L57.3,-71.8L59.6,-72.6L61.3,-74.3L63.9,-76.3L67.7,-76.7L69,-77.3L72.3,-77.2L75.6,-77L77.2,-76.9L79.8,-75.8L80.6,-74.9L80.8,-73.5L83.5,-72.4L84.1,-72.6L84.5,-71.9L85.5,-71.7L86.3,-71.6L87.2,-72.5L88.2,-71.9L88.6,-71.8L89.5,-71.5L90.5,-70.7L91.4,-70.2L92.1,-70.6L92.3,-70.6L92.1,-71.4L91.9,-72.7L92.3,-75.3L92.8,-76.4L94.1,-77.5L95.3,-77.4L96.7,-76.1L98.2,-75.1L99.5,-73.6L99,-72.9L97.9,-72.6L97.1,-70.9L96,-72L95.7,-70L96.1,-69L96.5,-69L96.9,-68.6L96.7,-68.3L96.9,-67.8L97,-67.2L96.1,-67.3L95.7,-67.5L95.5,-67.2L94.5,-67.1L94.4,-66.9L94.9,-65.8L95.1,-64.8L97,-62.7L98.5,-61.8L100,-60.2L98.8,-60.8L98.5,-60.1L96.7,-60.8L96.5,-59.4L97.9,-58.3L100,-56.9L101.6,-56.4L102.6,-54.6L103.8,-54.1L104.2,-55.6L103.6,-57.2L104.2,-57.6L103.8,-59.2L101.7,-60.7L101.3,-62.6L100.6,-63.7L101.1,-64.5L103,-62.2L104.3,-61.8L106,-60.3L107.4,-59.9L107,-62.3L107.8,-63.8L108.2,-65.6L108.3,-67.5L109.2,-68L110.3,-66.9L110.6,-67.8L110.2,-69.1L111.3,-69.4L112.5,-69.4L113.2,-68.4L115.2,-67.6L117.5,-66.7L119.7,-65.4L122.1,-63L124.4,-60.4L125.7,-58L126.7,-56.8L126.7,-55.9L127.7,-54.9L129.5,-51.9L130.6,-49.6L131.8,-49.1L132.3,-47.9L131.9,-47L131.4,-47.4L132.1,-44.3L132.6,-43.2L134.4,-40.4L135.8,-38.6L136.5,-38.3L136.8,-40.4L137.1,-42.9L136.9,-45.2L136.9,-46.8L137.7,-48.3L138.7,-48.3L139.7,-46.4L140.9,-43.7L141.9,-41.8L143.2,-38.8L143.1,-37.8L142.7,-38.4L142.9,-36.5L143.4,-34.4L143.3,-33.3L143.1,-31.9L143.3,-29.7L143.8,-27.5L143.2,-27.8L143.6,-25.6L144.3,-25.5L145.3,-24.3L145.9,-23.5L146.1,-23.7L145.9,-25.4L146,-26.5L146.3,-27L146.2,-28.5L145.9,-30L145.8,-31.4L145.7,-31.9L145.5,-33.5L145.4,-34.6L145.5,-34.8L145.6,-34.5L145.6,-34.8L145.7,-35L145.5,-35.9L145.3,-36.9L145.4,-36.9L145.8,-35.1L146.3,-32.6L146.9,-29.6L146.9,-29.3L147,-27.8L146.9,-27.4L147,-26.4L146.8,-26.7L146.7,-26.1L146.8,-25.1L146.7,-24.6L146.7,-23.2L146.8,-21.9L147,-21.6L146.9,-21L146.6,-21.3L146.1,-22L145.8,-21.7L145.3,-22.4L145.1,-21.5L144.5,-21.6L144.3,-20.5L143.7,-19.6L142.9,-19.1L142.4,-17.9L142.9,-16.3L143.8,-13.5L143.8,-12.1L143.8,-10.5L142.8,-11.3L142.1,-10.7L141.2,-8.7L140.9,-9L140.9,-7.6L140.2,-5.8L139.8,-5.1L139.3,-4.9L138.8,-4.4L138.3,-3.4L138.3,-1.2L138.7,-1.4L139.2,-0.7L139,0.4L139.2,0.7L139.1,1.4L139,2.4L139.4,2.7L139.3,4.4L139.4,7.4L140.1,7.3L140.6,8.6L140.9,12.2L141.6,15L141.9,16.9L142.1,19.5L142.4,19.5L142.5,20.8L142.4,23.1L142.2,24.3L142.6,25.1L143.5,24.7L144.1,24.6L144.4,25.8L145.2,26L145,27.3L145.1,28.5L145.4,27.8L145.1,30.1L145.2,31L145.1,32.1L144.2,34.4L143.3,35.4L142.6,36.2L142.1,37L141.2,38.2L140.3,38.6L139.8,38.9L138.3,40.9L136.6,41.4L135.3,41.8L134.3,41.5L133.3,41.7L132.8,45.2L132.1,46.9L129.9,49.4L130,48.2L129.4,48.8L127.5,51.1L126.6,52.6L125.6,52.9L124.1,54.3L122.5,58.3L120.8,61.8L119.4,64.8L116.9,68.5L115.4,70.6L113.8,72.8L112.1,72.9L111.3,73.7L110.5,75.3L109.6,77.5L107.6,79.7L105.5,81L103.8,82.5L101.9,83L99.5,83.2L98.9,84.2L97.6,85.1L97.5,86L96.5,87L97.3,87L97.3,87.4L98.6,87.4L100,87.5L100.9,86.8L101.5,86.8L102.9,85.9L103.3,86.1L103.5,86.5L104,86.5L104.7,86.2L105.1,86.2L105.6,86.1L104.8,85.7L104.8,84.8L105.1,84.2L105.8,83.9L106.4,84.3L106.5,85.1L107.2,85L107.4,84.6L107.7,84.7L108.7,83.2L109.9,81.6L110.8,80.5L111.1,78.7L111.6,76.8L111.8,75.2L111.9,74.4L112.1,74.2L112.4,74.7L112.4,75.1L113.3,75.3L114.5,74.8L115.6,73.9L116.6,72.5L117.5,71.4L118.6,70.7L119.2,70.4L119.8,69.7L119.9,69.8L120,70.9L120,71.3L119.8,72.4L119.8,73.5L119.2,74.4L119.1,74.9L119.3,75.5L119.9,75.6L119.9,75.8L119.3,76.8L118.7,78.3L118.9,78.7L118.7,79.2L117.9,80.5L117.5,81.4L117.7,81.6L117.2,82.7L116.4,83.8L115.6,85.3L114.9,86.3L114,87.8L114,88.4L114.1,88.6L112.8,90.8L110.4,94.1L109.3,96.1L108.6,97L108.1,97.5L107.2,98.8L106.2,100L104.8,101.6L104.4,102.1L104.1,102.6L103.6,103.1L103.5,103.5L102.5,104.4L102,105L100.7,106.2L100,106.4L99.8,106.1L99.4,106.3L98.7,106.3L98,106.5L98.3,106.2L97.9,106.1L98,105.8L97.8,105.6L97.3,105.6L96.6,106L96.2,105.9L95.1,106.5L93.6,106.9L92.7,106.8L91,107.5L90,108.1L88.2,108.4L87.6,108.1L87.3,107.5L85.5,107.5L84.4,107.9L83.2,108.5L82.2,108.5L82.2,108.2L81.3,108.1L80.6,108.3L79.3,108.2L77.6,108.2L76.2,108.3L75.2,108.9L75.1,108.1L75,107.7L74.9,107.1L74.7,107L74.5,107.8L74.6,108.9L74.5,109.8L74.1,110.3L73.3,110.4L72.1,110.5L69.7,109.8L69.6,110L71.1,110.7L73,110.9L75.5,111.5L76.6,111.5L77.6,111.6L80,111.4L79.7,111.8L80.2,112.3L83,111.4L83.4,111.3L84.6,111.5L84.3,112L85.1,112.5L86.5,112.8L87.4,112.4L88.6,111.8L90.3,111.6L91.3,111.7L92.6,111.1L95.6,109.3L96.9,108.7L98.2,108L98.9,107.6L99.9,106.9L100.5,106.6L100.6,106.8L99.6,107.9L100.5,107.3L101.2,106.8L101.7,106.6L102.7,105.9L103.6,105L105.2,103.2L107.1,101.1L108.6,99.4L109.4,98.4L109.9,97.7L110.9,96.6L111.4,95.9L112.1,95L113,93.9L113.6,92.9L114.2,92.1L114.3,92.2L114.4,92.5L114.6,92.7L114.4,93.2L114.3,94.1L113.9,95.3L113.2,96.8L112,98.8L110.7,100.6L108.8,103L107,105L104.3,107.8L102.6,109.5L102,110L101.8,109.7L95.8,114.9L89.6,119.9L83.2,124.4L76.5,128.6L69.5,132.5L62.4,136L55.2,139.1L47.7,141.8L40.2,144.2L32.5,146.1L24.7,147.6ZM-4.1,78L-5.7,80.3L-4.3,80.1L-2.7,80.2L-3.2,81.9L-4.6,83.8L-3.1,84L-1.7,86.8L-0.7,87.2L0.3,89.6L0.7,90.4L2.7,90.8L2.5,92.1L1.7,92.7L2.4,93.8L0.9,94.9L-1.3,94.9L-4.1,95.3L-4.9,94.9L-6.1,95.8L-7.6,95.4L-8.8,96.1L-9.7,95.6L-7.1,93.7L-5.6,93.4L-8.1,92.8L-8.5,92L-6.8,91.5L-7.5,90.3L-7.1,88.9L-4.8,89.3L-4.5,88.1L-5.5,86.7L-7.3,86.2L-7.6,85.6L-7,84.7L-7.4,84L-8.3,85L-8.2,82.9L-8.8,81.7L-8.1,79.5L-6.8,77.8L-5.7,78.1ZM-9.6,87.9L-9.5,89.5L-10.9,91.2L-13.8,92L-16.1,91.3L-14.4,89.4L-14.9,87.2L-12.6,85.8L-11.3,85L-10,85.1L-8.6,86.6ZM-15,58L-15.6,59.4L-14.8,61.3L-16.7,62.7L-20.3,63.3L-21.4,63.4L-22.7,62.6L-25.5,60.7L-24,60.2L-25.8,58.2L-23.9,58.5L-23.6,57.8L-25.5,56.4L-24.2,55.3L-22.6,55.6L-21.7,57.7L-19.7,57L-18.7,58.1L-16.6,57.4ZM7,26L7,25L7.6,24.8L8.4,25.5L10.5,26.7L9.7,28.1L10,30L9.7,30.6L10.1,32.7L9.4,33L7.8,31.8L8.1,30.8L7.1,30.3L5.6,28.4L4.9,26.5L5.9,25.3L6.4,26.2ZM11.9,23L11.9,24.5L10.8,25.4L9.3,25.5L9,24.9L8.4,25L7.5,24.1L8.6,23L9.4,23.3L9.5,22.4L10.7,22.6ZM13.2,28.7L12.5,30.1L11.3,29.9L11.4,29.2L10.9,28.6L11.7,27.7L12.2,28.5ZM41.8,26.6L41.7,27.1L39.8,29.3L38.8,28.8L37.4,29.6L36.2,28.9L36.3,27.9L35.2,27.1L34.4,24.6L33.7,25L32.9,22.3L31.9,21.8L31.6,19.8L31.2,17.2L31.7,15.1L31.3,13.8L31.5,12.6L32.6,12.6L33.1,13.3L33.4,15.8L33.6,18.2L34.6,21.2L36.1,23.4L37.4,25.8L39.2,26.8ZM19.2,15.5L19.1,16.1L19.2,16.9L19.2,17.6L18.4,17.5L18,16.8L17.3,17.4L17.5,16.5L17.9,16L18.5,16.4L18.2,15.8L18.1,15.2L19,15.1ZM28.5,-5L29,-3.9L28.4,-2.5L27.5,-1.6L25.7,-1.1L25.2,-0.5L23.4,-1.5L22.7,-2.4L23.9,-3.3L26.2,-4.7ZM27.2,-6.2L28.3,-7.8L29.3,-7.9L31,-5.1L27.5,-5.5L27.1,-5.8ZM23.7,-27L22.5,-28.2L21.4,-30.7L22.9,-31.9L24.9,-30.3L26.1,-30L26,-27.9L24.6,-26.9ZM20.8,-31.3L20,-32.2L18.9,-33.7L20.1,-34.2L20.9,-33.4L21.4,-31.9ZM25.6,-32.9L25.4,-34.3L25.7,-34.9L26.6,-34.2L27.7,-33L27.7,-32.8L26.5,-32.5ZM1.1,-48.6L0,-47.5L-2,-48.1L-2,-48.5L-1.1,-49.1L0,-49.3L0.9,-49.4ZM56.3,-76.4L57,-80.3L58.6,-78.3L61.2,-79.9L61,-82.5L61.8,-83.6L62.2,-81.8L64.1,-82.3L63.3,-80.8L62,-79.5L60.9,-77.7L59.6,-76.7L57.9,-74.6L57.5,-72.5L55.6,-70.3L53.8,-70.5L53.7,-69.3L53,-69.5L53.6,-70.8L54.3,-72.8L55.6,-74.4ZM63.4,-86.9L62.5,-88L61,-88.2L61.8,-90.1L64.4,-88.8L66.8,-89.2L68.5,-86.4L70.5,-87.3L72.2,-85.9L71.3,-84.4L69.7,-84L68,-85.2L66,-83.5L64.7,-82.7L64.2,-85.6ZM75.3,-92.9L76.7,-93.4L76.9,-94.2L78.4,-94.3L81,-93.1L83.8,-90.6L87.3,-89.7L87.9,-88.3L87.2,-87.4L90,-85L92.3,-83.6L94,-81.7L93.3,-84L96.1,-84.5L97.5,-83.8L97.8,-82.6L96.5,-82.2L97.1,-80.9L96.9,-79.6L95.2,-80.9L93.8,-81.2L91.8,-82.3L89.9,-82.8L86.7,-85.5L85.3,-87.3L81.8,-86.9L81.3,-88.4L77.9,-89.2L76.6,-89.5L74.4,-88.8L73.4,-87.1L72.1,-86.8L70.3,-87.9L70.9,-90.4L71.8,-91.5L74.3,-91.6ZM89.2,-85.9L88.3,-87.2L88.5,-87.8L90,-87.5L90.3,-86.5L91.3,-86L92.3,-86.1L93,-84.8L92.5,-84.3L91,-84.6L90.3,-85.6ZM116.1,-71.9L118.3,-71.6L119.5,-71.1L119.5,-69.6L118.9,-69L117.3,-69.6L115.6,-70.9L115.4,-71.9ZM133.2,-49.4L134.3,-47.5L134.8,-45.5L134.1,-45.2L133.3,-46.2L132.2,-48.7L131.7,-50L131.8,-50.6L132.6,-49.8ZM147.2,21.2L147.5,21.7L147.4,22.8L147.1,25L146.6,26.2L146.1,26.5L145.6,25.3L146.2,23.6L146.6,22.4ZM121.5,-73.9L120.9,-75.4L120.3,-75.9L120.4,-76.2L120.9,-76L120.9,-77.1L121.8,-76.8L122.8,-75.7L123.5,-75.7L123.6,-76.4L123,-77.6L122.3,-78.5L120.8,-81.4L121.2,-81.4L120.9,-82.1L121.3,-82L122.1,-80.2L122.4,-79.3L122.9,-78.8L123.5,-77.3L124.8,-75.4L125.3,-74.2L125,-74.2L124.5,-74.8L124.7,-74L125.1,-73.9L125.4,-72.6L125.3,-72.1L124.8,-71.7L124.5,-72.7L123.3,-72.3L122.3,-72.7ZM141.8,-48.8L141.7,-49L141.2,-50.4L140.5,-52.3L139.8,-54.1L139.5,-54.6L139.1,-55.6L137.9,-58.5L137,-60.2L136.4,-61.3L135.9,-62.2L134.8,-64.2L133.8,-65.9L133,-67L132.5,-67.9L132,-69.2L132.1,-69.3L131.4,-70.9L130.4,-72.8L130.6,-72.7L131.4,-71.2L131.3,-71.6L132.2,-70L133.1,-68.7L132.3,-70.5L132.5,-70.1L131.2,-72.7L132.7,-70L133.1,-69.2L133.1,-69.3L132.7,-69.1L137.5,-59.1L141.5,-48.7ZM148,-24.5L148,-24.1L148.1,-23.4L148.2,-22.4L148.5,-20.1L148.6,-18.7L148.7,-16.7L148.8,-15.5L148.8,-14L148.7,-13.8L148.1,-19.4L148,-21.8L147.8,-23.8L147.6,-25.2L147.3,-27.7L146.8,-30.3L146.4,-32.5L146.1,-33.9L145.6,-35.9L145.7,-35.5L145.4,-35.4L146.6,-30L147.6,-24.4ZM31.5,113.5L31.1,115L31.6,115.3L31.4,116.2L29.7,116.1L28.6,116.2L25.6,116L25.7,115.2L28.1,114.8L30.1,114.1ZM18.1,111.4L19.4,112.4L19.5,114.6L18.6,114.7L17.9,115.3L17,115L16.7,113L16.1,112.1L17.2,112.1ZM18.5,109.7L18.1,111.1L17.1,110.9L16.5,109.8L16.8,109.1L17.9,108.2ZM49,111.5L50.2,111.5L51.7,110.8L53.2,110.2L53.3,110.4L54.2,109.8L54.2,110.3L51.4,111.7L51.4,111.5L48.8,112.3ZM66.3,103.2L66.5,102.6L67.8,101.8L69.2,100.3L68.3,101.7L68.6,101.8L67.2,103.6L66.2,104L65.5,103.8ZM17.9,81.7L18.6,82.7L18.1,84.5L16.3,83.7L16,82.8ZM78.2,67.7L78.5,69.1L77.5,70.6L77.7,73.3L80.1,73.2L80.9,74.1L83.8,74L86.8,73.8L87.4,73.2L88.2,73L87.2,74.3L88,75.4L88.2,76.1L88,76.9L88.7,77.4L90,77.7L91.5,76.4L93,75.8L95.1,73.6L96.7,70.7L96.6,70.4L95.4,70L94.2,68.8L92.8,69.7L92.2,68.6L91.4,69.6L90.5,68.4L91.9,67.1L92.5,65.4L90.8,66L89.7,65.8L89.1,67.3L90,68.3L88.7,68.1L88.3,67.9L88,67.1L87.3,67L85.5,68.4L83.7,68L82.7,68.5L82.2,68.2L83.5,66.9L82.4,66L83.2,64.6L84.4,63.5L83.1,62.1L82,61.7L81,63.2L79.6,64.1L79,66.2Z"/>
<filter id="fO" filterUnits="userSpaceOnUse" x="-165" y="-165" width="330" height="330" color-interpolation-filters="sRGB"><feGaussianBlur stdDeviation="1.6"/><feColorMatrix type="matrix" values="0 1.07 0 0 0 0 1.07 0 0 0 0 1.07 0 0 0 0 0 0 0 1"/><feComponentTransfer><feFuncR type="discrete" tableValues="0.184 0.271 0.392 0.435 0.482 0.529 0.576 0.627 0.690 0.749 0.796 0.847 0.894 0.949 1.000"/><feFuncG type="discrete" tableValues="0.388 0.514 0.694 0.714 0.733 0.761 0.788 0.816 0.843 0.871 0.894 0.922 0.945 0.973 1.000"/><feFuncB type="discrete" tableValues="0.592 0.698 0.851 0.871 0.890 0.914 0.937 0.961 0.973 0.984 0.992 0.996 1.000 1.000 1.000"/></feComponentTransfer></filter>
<filter id="fM" filterUnits="userSpaceOnUse" x="-165" y="-165" width="330" height="330" color-interpolation-filters="sRGB"><feGaussianBlur stdDeviation="1.6"/><feColorMatrix type="matrix" values="1 0 0 0 0 1 0 0 0 0 1 0 0 0 0 0 0 0 0 1"/><feComponentTransfer><feFuncR type="discrete" tableValues="0.184 0.271 0.392 0.435 0.482 0.529 0.576 0.627 0.690 0.749 0.796 0.847 0.894 0.949 1.000"/><feFuncG type="discrete" tableValues="0.388 0.514 0.694 0.714 0.733 0.761 0.788 0.816 0.843 0.871 0.894 0.922 0.945 0.973 1.000"/><feFuncB type="discrete" tableValues="0.592 0.698 0.851 0.871 0.890 0.914 0.937 0.961 0.973 0.984 0.992 0.996 1.000 1.000 1.000"/></feComponentTransfer></filter>
<filter id="fD" filterUnits="userSpaceOnUse" x="-165" y="-165" width="330" height="330" color-interpolation-filters="sRGB"><feGaussianBlur stdDeviation="1.6"/><feColorMatrix type="matrix" values="0.5 -0.5 0 0 0.488 0.5 -0.5 0 0 0.488 0.5 -0.5 0 0 0.488 0 0 0 0 1"/><feComponentTransfer><feFuncR type="discrete" tableValues="0.059 0.098 0.141 0.188 0.243 0.322 0.443 0.553 0.655 0.741 0.831 0.882 0.941 0.973 0.980 0.992 0.980 0.969 0.949 0.910 0.863 0.816 0.761 0.714 0.612 0.506"/><feFuncG type="discrete" tableValues="0.263 0.337 0.416 0.478 0.549 0.616 0.690 0.761 0.816 0.859 0.902 0.929 0.957 0.949 0.906 0.867 0.792 0.718 0.631 0.537 0.431 0.333 0.220 0.122 0.067 0.031"/><feFuncB type="discrete" tableValues="0.482 0.588 0.682 0.714 0.749 0.784 0.827 0.863 0.894 0.918 0.945 0.953 0.965 0.937 0.863 0.796 0.694 0.600 0.498 0.424 0.341 0.282 0.227 0.180 0.153 0.137"/></feComponentTransfer></filter>
<g id="f3"><rect x="-170" y="-170" width="340" height="340" fill="#000"/><g style="isolation:isolate"><path d="M-29,-72.5L-15,-76L-5,-73.5L4.5,-71L19,-72L21.2,-58.3L39.9,-47.5L53.7,-31L61,-10.8L61,10.8L53.7,31L47.5,39.9L40,42L30,48L20,49L19,42L15,44L10,47.5L5,52.5L0,57.5L-6,60L-15,57.5L-19,55L-25,53L-30,51.5L-36,50.5L-45,52L-48,45L-52,39L-57.5,36.5L-64,38L-69,44L-73,53L-76.5,61L-79,66L-84,62L-97,26L-106,-2L-80.8,-29.4L-57.7,-40.4L-36.4,-51.9L-28.8,-61.7L-30,-71Z" fill="none" stroke="#0a0000" stroke-width="30" stroke-linejoin="round" style="mix-blend-mode:lighten"/><path d="M-29,-72.5L-15,-76L-5,-73.5L4.5,-71L19,-72L21.2,-58.3L39.9,-47.5L53.7,-31L61,-10.8L61,10.8L53.7,31L47.5,39.9L40,42L30,48L20,49L19,42L15,44L10,47.5L5,52.5L0,57.5L-6,60L-15,57.5L-19,55L-25,53L-30,51.5L-36,50.5L-45,52L-48,45L-52,39L-57.5,36.5L-64,38L-69,44L-73,53L-76.5,61L-79,66L-84,62L-97,26L-106,-2L-80.8,-29.4L-57.7,-40.4L-36.4,-51.9L-28.8,-61.7L-30,-71Z" fill="none" stroke="#4c0000" stroke-width="12" stroke-linejoin="round" style="mix-blend-mode:lighten"/><path d="M-29,-72.5L-15,-76L-5,-73.5L4.5,-71L19,-72L21.2,-58.3L39.9,-47.5L53.7,-31L61,-10.8L61,10.8L53.7,31L47.5,39.9L40,42L30,48L20,49L19,42L15,44L10,47.5L5,52.5L0,57.5L-6,60L-15,57.5L-19,55L-25,53L-30,51.5L-36,50.5L-45,52L-48,45L-52,39L-57.5,36.5L-64,38L-69,44L-73,53L-76.5,61L-79,66L-84,62L-97,26L-106,-2L-80.8,-29.4L-57.7,-40.4L-36.4,-51.9L-28.8,-61.7L-30,-71Z" fill="none" stroke="#a60000" stroke-width="6" stroke-linejoin="round" style="mix-blend-mode:lighten"/><path d="M-29,-72.5L-15,-76L-5,-73.5L4.5,-71L19,-72L21.2,-58.3L39.9,-47.5L53.7,-31L61,-10.8L61,10.8L53.7,31L47.5,39.9L40,42L30,48L20,49L19,42L15,44L10,47.5L5,52.5L0,57.5L-6,60L-15,57.5L-19,55L-25,53L-30,51.5L-36,50.5L-45,52L-48,45L-52,39L-57.5,36.5L-64,38L-69,44L-73,53L-76.5,61L-79,66L-84,62L-97,26L-106,-2L-80.8,-29.4L-57.7,-40.4L-36.4,-51.9L-28.8,-61.7L-30,-71Z" fill="#ff0000" style="mix-blend-mode:lighten"/><path d="M40,-73L47,-79L53,-86L61,-90L65,-85L60,-70L45,-62L36,-66Z" fill="none" stroke="#400000" stroke-width="10" stroke-linejoin="round" style="mix-blend-mode:lighten"/><path d="M40,-73L47,-79L53,-86L61,-90L65,-85L60,-70L45,-62L36,-66Z" fill="none" stroke="#800000" stroke-width="5" stroke-linejoin="round" style="mix-blend-mode:lighten"/><path d="M40,-73L47,-79L53,-86L61,-90L65,-85L60,-70L45,-62L36,-66Z" fill="#ff0000" style="mix-blend-mode:lighten"/><path d="M27,-74L33,-76L37,-70L31,-66Z" fill="#f20000" style="mix-blend-mode:lighten"/><path d="M32,47L39,44.5L46,45L46,58L33,58Z" fill="#ff0000" style="mix-blend-mode:lighten"/><path d="M20,54L29,54L29,69L21,69Z" fill="#ff0000" style="mix-blend-mode:lighten"/><path d="M29,64L40,62L40,68L29,70Z" fill="#ff0000" style="mix-blend-mode:lighten"/><path d="M22,69L31,69L31,77L23,79Z" fill="#800000" style="mix-blend-mode:lighten"/><path d="M19,77L31,77L29,84L19,85Z" fill="#400000" style="mix-blend-mode:lighten"/><path d="M-93,44L-85,43L-84,50L-91,51Z" fill="#cc0000" style="mix-blend-mode:lighten"/><path d="M-29,-72.5L-15,-76L-5,-73.5L4.5,-71L19,-72L21.2,-58.3L39.9,-47.5L53.7,-31L61,-10.8L61,10.8L53.7,31L47.5,39.9L40,40L40,31L34,22.5L27,16.5L21,20.5L16,26.5L11,31L9.5,29L6.5,22L0.5,22.5L-5,32.5L-11.5,39.5L-19,47.5L-36,48.8L-48.5,52L-46,42L-51.5,31L-57.5,31.5L-65,33L-71,40.5L-76,51L-79,57.5L-82,60L-97,26L-106,-2L-80.8,-29.4L-57.7,-40.4L-36.4,-51.9L-28.8,-61.7L-30,-71Z" fill="none" stroke="#004800" stroke-width="9" stroke-linejoin="round" style="mix-blend-mode:lighten"/><path d="M-29,-72.5L-15,-76L-5,-73.5L4.5,-71L19,-72L21.2,-58.3L39.9,-47.5L53.7,-31L61,-10.8L61,10.8L53.7,31L47.5,39.9L40,40L40,31L34,22.5L27,16.5L21,20.5L16,26.5L11,31L9.5,29L6.5,22L0.5,22.5L-5,32.5L-11.5,39.5L-19,47.5L-36,48.8L-48.5,52L-46,42L-51.5,31L-57.5,31.5L-65,33L-71,40.5L-76,51L-79,57.5L-82,60L-97,26L-106,-2L-80.8,-29.4L-57.7,-40.4L-36.4,-51.9L-28.8,-61.7L-30,-71Z" fill="none" stroke="#009000" stroke-width="4" stroke-linejoin="round" style="mix-blend-mode:lighten"/><path d="M-29,-72.5L-15,-76L-5,-73.5L4.5,-71L19,-72L21.2,-58.3L39.9,-47.5L53.7,-31L61,-10.8L61,10.8L53.7,31L47.5,39.9L40,40L40,31L34,22.5L27,16.5L21,20.5L16,26.5L11,31L9.5,29L6.5,22L0.5,22.5L-5,32.5L-11.5,39.5L-19,47.5L-36,48.8L-48.5,52L-46,42L-51.5,31L-57.5,31.5L-65,33L-71,40.5L-76,51L-79,57.5L-82,60L-97,26L-106,-2L-80.8,-29.4L-57.7,-40.4L-36.4,-51.9L-28.8,-61.7L-30,-71Z" fill="#00f000" style="mix-blend-mode:lighten"/><path d="M35,-73.5L43,-77L49,-84L53,-87L58,-91L65,-85L60,-70L45,-62L35,-66Z" fill="#006c00" style="mix-blend-mode:lighten"/><path d="M27,-74L33,-76L37,-70L31,-66Z" fill="#00d800" style="mix-blend-mode:lighten"/><path d="M42,-70L50,-75L57,-81L64,-84L60,-70L45,-62L38,-66Z" fill="#00f000" style="mix-blend-mode:lighten"/><path d="M32,47L39,44.5L46,45L46,58L33,58Z" fill="#00f000" style="mix-blend-mode:lighten"/><path d="M-93,44L-85,43L-84,50L-91,51Z" fill="#006000" style="mix-blend-mode:lighten"/><path d="M21,54L29,54L28,62L22,62Z" fill="#00f000" style="mix-blend-mode:lighten"/><path d="M21,62L28,62L28,69L21,69Z" fill="#002400" style="mix-blend-mode:lighten"/></g></g>
<g id="f9"><rect x="-170" y="-170" width="340" height="340" fill="#000"/><g style="isolation:isolate"><path d="M-35.5,-35.7L-28.4,-39.9L-19.4,-44.7L-11.1,-48.7L-5.2,-51.8L1.4,-51.8L9,-49.9L16.1,-45.6L20,-37L24,-28L26.5,-18L26,-8L29,1L30,10L28,14L33,24L37,27.5L30,31.5L21,37L12,41.5L3.5,47L-7.5,50.5L-19,50.5L-30,45.5L-33,30L-32,12L-30,0L-40,-3L-45,-5L-50,-15L-45,-30Z" fill="none" stroke="#0a0000" stroke-width="30" stroke-linejoin="round" style="mix-blend-mode:lighten"/><path d="M-35.5,-35.7L-28.4,-39.9L-19.4,-44.7L-11.1,-48.7L-5.2,-51.8L1.4,-51.8L9,-49.9L16.1,-45.6L20,-37L24,-28L26.5,-18L26,-8L29,1L30,10L28,14L33,24L37,27.5L30,31.5L21,37L12,41.5L3.5,47L-7.5,50.5L-19,50.5L-30,45.5L-33,30L-32,12L-30,0L-40,-3L-45,-5L-50,-15L-45,-30Z" fill="none" stroke="#4c0000" stroke-width="12" stroke-linejoin="round" style="mix-blend-mode:lighten"/><path d="M-35.5,-35.7L-28.4,-39.9L-19.4,-44.7L-11.1,-48.7L-5.2,-51.8L1.4,-51.8L9,-49.9L16.1,-45.6L20,-37L24,-28L26.5,-18L26,-8L29,1L30,10L28,14L33,24L37,27.5L30,31.5L21,37L12,41.5L3.5,47L-7.5,50.5L-19,50.5L-30,45.5L-33,30L-32,12L-30,0L-40,-3L-45,-5L-50,-15L-45,-30Z" fill="none" stroke="#a60000" stroke-width="6" stroke-linejoin="round" style="mix-blend-mode:lighten"/><path d="M-35.5,-35.7L-28.4,-39.9L-19.4,-44.7L-11.1,-48.7L-5.2,-51.8L1.4,-51.8L9,-49.9L16.1,-45.6L20,-37L24,-28L26.5,-18L26,-8L29,1L30,10L28,14L33,24L37,27.5L30,31.5L21,37L12,41.5L3.5,47L-7.5,50.5L-19,50.5L-30,45.5L-33,30L-32,12L-30,0L-40,-3L-45,-5L-50,-15L-45,-30Z" fill="#ff0000" style="mix-blend-mode:lighten"/><path d="M-36,10L-33,22L-40,32L-50,30L-50,14L-44,6Z" fill="none" stroke="#400000" stroke-width="6" stroke-linejoin="round" style="mix-blend-mode:lighten"/><path d="M-36,10L-33,22L-40,32L-50,30L-50,14L-44,6Z" fill="#8c0000" style="mix-blend-mode:lighten"/><path d="M32,2L40,8L44,18L42,28L36,22L32,13Z" fill="none" stroke="#660000" stroke-width="4" stroke-linejoin="round" style="mix-blend-mode:lighten"/><path d="M32,2L40,8L44,18L42,28L36,22L32,13Z" fill="#bf0000" style="mix-blend-mode:lighten"/><path d="M25,-29L37,-32L44,-16L33,-6L27,-8L27,-18Z" fill="none" stroke="#4c0000" stroke-width="4" stroke-linejoin="round" style="mix-blend-mode:lighten"/><path d="M25,-29L37,-32L44,-16L33,-6L27,-8L27,-18Z" fill="#990000" style="mix-blend-mode:lighten"/><path d="M31.3,-4L28.9,-0.8L26.1,2L23.9,4.5L25.2,8.1L23,10.4L19.6,11.9L18.2,14.4L17,17L14.6,18.6L12.3,20.2L10,21.7L7.7,23.1L5.3,24.5L3.3,27.2L1.1,30.1L-1.4,33.4L-4.4,37L-8,40.6L-12.2,44.1L-16.3,42.9L-20.1,41.3L-23.9,39.7L-27.6,38.1L-30.5,35L-32.8,31.5L-35.1,28.3L-37.3,25.3L-39.4,22.3L-41.5,19.4L-43.6,16.5L-45.4,13.4L-46.9,10.2L-48.5,6.8L-50.2,3.4L-52,-0.2L-53.9,-4L-56.1,-8.2L-55.2,-12.3L-53.8,-16.3L-52.4,-20.2L-51,-24.1L-48.9,-27.6L-44.6,-29.6L-40.8,-31.5L-38.7,-34.7L-36.9,-38.5L-33.4,-40.3L-29.3,-40.8L-24.5,-39.4L-20.2,-37.5L-17.1,-38L-14.1,-38.5L-11.2,-40.1L-8,-41.8L-4.6,-43.3L-0.8,-44.6L3.6,-47.3L8.7,-50L12.8,-48.7L15.1,-44L16.6,-39.1L17.8,-34.8L19,-31L21.4,-28.7L23.9,-26.3L26.7,-24.1L29.9,-21.7L32.8,-18.8L34.9,-15.5L35.8,-11.7L34,-7.7Z" fill="#000c00" style="mix-blend-mode:lighten"/><path d="M28.3,-4L26.3,-1L24.1,1.7L22.1,4.1L23.2,7.4L21.3,9.7L18.4,11.2L17,13.5L15.8,16L13.7,17.7L11.5,19.2L9.3,20.7L7,22L4.8,23.4L2.8,25.6L0.6,28.1L-1.9,30.8L-4.7,33.5L-8,36.3L-11.8,39.2L-15.4,38.1L-18.9,36.6L-22.2,35.1L-25.6,33.7L-28.2,31L-30.3,27.9L-32.4,25L-34.3,22.3L-36.2,19.7L-38.1,17.1L-40,14.5L-41.6,11.7L-43,8.8L-44.5,5.8L-46,2.7L-47.7,-0.5L-49.4,-4L-51.3,-7.8L-50.7,-11.5L-49.6,-15.1L-48.5,-18.7L-47.4,-22.4L-45.7,-25.8L-42.1,-27.9L-38.8,-29.8L-36.8,-32.8L-34.9,-36.1L-31.7,-37.8L-27.8,-38.2L-23.4,-37L-19.4,-35.3L-16.5,-35.7L-13.7,-36.1L-10.9,-37.4L-8,-38.8L-4.8,-40.1L-1.4,-41.2L2.5,-43.4L7.1,-45.5L10.8,-44.3L12.9,-40.2L14.4,-36L15.6,-32.1L16.7,-28.7L18.9,-26.6L21.1,-24.4L23.7,-22.3L26.5,-20.1L29,-17.5L31,-14.4L31.9,-11L30.5,-7.4Z" fill="#001800" style="mix-blend-mode:lighten"/><path d="M26,-4L24.3,-1.2L22.5,1.4L20.8,3.7L21.7,6.8L20,9.1L17.4,10.7L16.1,12.9L15,15.3L12.9,16.9L10.9,18.5L8.7,19.9L6.6,21.2L4.4,22.5L2.4,24.5L0.2,26.6L-2.2,28.7L-4.9,30.9L-8,33.1L-11.5,35.5L-14.8,34.4L-17.9,33.1L-21,31.7L-24,30.4L-26.5,28L-28.5,25.2L-30.3,22.6L-32.1,20.1L-33.9,17.7L-35.6,15.3L-37.3,12.9L-38.8,10.4L-40.1,7.7L-41.5,5L-42.9,2.2L-44.4,-0.8L-46,-4L-47.7,-7.5L-47.3,-10.9L-46.4,-14.3L-45.6,-17.7L-44.7,-21.1L-43.4,-24.4L-40.2,-26.5L-37.2,-28.5L-35.3,-31.3L-33.4,-34.3L-30.3,-35.9L-26.7,-36.3L-22.5,-35.1L-18.8,-33.7L-16,-34L-13.3,-34.3L-10.7,-35.4L-8,-36.6L-5.1,-37.6L-1.9,-38.6L1.8,-40.4L5.9,-42.2L9.3,-41L11.2,-37.3L12.7,-33.6L13.9,-30.1L15,-27L17,-25L19.1,-22.9L21.4,-21L23.9,-18.9L26.2,-16.5L28,-13.7L28.9,-10.5L27.8,-7.1Z" fill="#002b00" style="mix-blend-mode:lighten"/><path d="M24.4,-4L23,-1.3L21.5,1.2L19.9,3.5L20.7,6.5L19.1,8.7L16.8,10.3L15.5,12.5L14.4,14.8L12.5,16.5L10.5,18L8.4,19.4L6.2,20.7L4.1,21.9L2.1,23.7L-0.1,25.6L-2.5,27.4L-5.1,29.1L-8,31L-11.2,33L-14.3,32L-17.3,30.7L-20.2,29.4L-23,28.2L-25.3,26L-27.2,23.4L-29,21L-30.7,18.7L-32.3,16.4L-33.9,14.1L-35.5,11.9L-36.9,9.5L-38.2,7L-39.5,4.4L-40.9,1.8L-42.2,-1L-43.7,-4L-45.4,-7.3L-45,-10.5L-44.3,-13.7L-43.6,-17L-42.9,-20.3L-41.8,-23.5L-39,-25.7L-36.2,-27.7L-34.4,-30.4L-32.5,-33.1L-29.5,-34.7L-25.9,-35L-22,-33.9L-18.4,-32.6L-15.7,-32.8L-13.1,-33.1L-10.6,-34.1L-8,-35.1L-5.2,-36L-2.2,-36.9L1.2,-38.4L5.1,-40L8.2,-38.8L10.2,-35.4L11.6,-32L12.7,-28.7L13.8,-25.8L15.7,-23.9L17.7,-22L19.9,-20.1L22.2,-18.1L24.4,-15.8L26.1,-13.1L26.9,-10.2L26,-7Z" fill="#003c00" style="mix-blend-mode:lighten"/><path d="M22.1,-4L21.1,-1.5L19.9,0.9L18.6,3.1L19.2,5.9L17.9,8.1L15.8,9.8L14.7,11.9L13.5,14.1L11.7,15.7L9.9,17.3L7.8,18.6L5.8,19.8L3.7,21L1.7,22.5L-0.5,24.2L-2.8,25.4L-5.3,26.5L-8,27.8L-10.9,29.3L-13.7,28.3L-16.4,27.2L-18.9,26L-21.5,24.9L-23.6,23L-25.3,20.7L-26.9,18.6L-28.5,16.5L-29.9,14.4L-31.4,12.4L-32.9,10.4L-34.1,8.2L-35.3,5.9L-36.5,3.6L-37.8,1.2L-39,-1.3L-40.3,-4L-41.8,-7L-41.6,-9.9L-41.1,-12.9L-40.7,-15.9L-40.2,-19L-39.4,-22.1L-37.1,-24.4L-34.7,-26.4L-32.9,-28.9L-31,-31.4L-28.1,-32.8L-24.8,-33.1L-21.1,-32.1L-17.8,-30.9L-15.3,-31.1L-12.8,-31.3L-10.5,-32L-8,-32.9L-5.4,-33.6L-2.7,-34.3L0.4,-35.5L3.9,-36.6L6.7,-35.5L8.5,-32.6L9.9,-29.6L11,-26.7L12.1,-24.1L13.8,-22.3L15.6,-20.5L17.6,-18.8L19.7,-16.9L21.6,-14.8L23.1,-12.3L24,-9.6L23.3,-6.7Z" fill="#005400" style="mix-blend-mode:lighten"/><path d="M19.8,-4L19.1,-1.6L18.3,0.6L17.3,2.8L17.7,5.4L16.6,7.5L14.9,9.2L13.8,11.2L12.6,13.3L11,15L9.2,16.6L7.3,17.8L5.3,19L3.3,20.2L1.2,21.4L-0.9,22.7L-3.2,23.3L-5.6,23.9L-8,24.6L-10.6,25.5L-13.1,24.7L-15.4,23.6L-17.7,22.6L-19.9,21.6L-21.8,19.9L-23.4,18.1L-24.9,16.1L-26.3,14.3L-27.6,12.4L-28.9,10.6L-30.2,8.8L-31.3,6.9L-32.4,4.9L-33.5,2.8L-34.7,0.7L-35.8,-1.6L-36.9,-4L-38.2,-6.6L-38.2,-9.3L-38,-12L-37.7,-14.8L-37.5,-17.8L-37.1,-20.8L-35.2,-23L-33.2,-25.1L-31.5,-27.5L-29.5,-29.6L-26.8,-30.9L-23.7,-31.1L-20.3,-30.3L-17.2,-29.3L-14.8,-29.4L-12.5,-29.5L-10.3,-30L-8,-30.6L-5.6,-31.2L-3.1,-31.7L-0.4,-32.5L2.7,-33.3L5.2,-32.3L6.9,-29.8L8.3,-27.2L9.3,-24.6L10.3,-22.3L11.9,-20.7L13.5,-19.1L15.3,-17.4L17.1,-15.7L18.8,-13.8L20.2,-11.5L21,-9.1L20.7,-6.5Z" fill="#006c00" style="mix-blend-mode:lighten"/><path d="M17.5,-4L17.2,-1.8L16.8,0.4L16,2.4L16.2,4.8L15.3,6.9L14,8.7L12.9,10.6L11.8,12.6L10.3,14.3L8.6,15.8L6.7,17L4.8,18.2L2.9,19.3L0.8,20.2L-1.3,21.2L-3.5,21.3L-5.8,21.3L-8,21.4L-10.3,21.8L-12.4,21L-14.5,20.1L-16.4,19.2L-18.4,18.3L-20.1,16.9L-21.6,15.4L-22.9,13.7L-24.1,12.1L-25.2,10.4L-26.4,8.9L-27.5,7.3L-28.5,5.6L-29.5,3.8L-30.5,2L-31.6,0.2L-32.5,-1.9L-33.5,-4L-34.6,-6.3L-34.8,-8.7L-34.8,-11.2L-34.8,-13.8L-34.8,-16.5L-34.7,-19.4L-33.3,-21.7L-31.7,-23.9L-30,-26L-28,-27.8L-25.5,-29L-22.5,-29.2L-19.4,-28.5L-16.6,-27.6L-14.3,-27.6L-12.2,-27.6L-10.1,-28L-8,-28.4L-5.8,-28.8L-3.6,-29.1L-1.1,-29.6L1.4,-30L3.7,-29L5.2,-26.9L6.6,-24.8L7.6,-22.6L8.6,-20.6L10,-19.1L11.4,-17.6L13,-16.1L14.5,-14.5L16,-12.7L17.2,-10.8L18.1,-8.6L18,-6.3Z" fill="#008400" style="mix-blend-mode:lighten"/><path d="M15.2,-4L15.2,-2L15.2,0.1L14.7,2.1L14.8,4.3L14,6.3L13,8.1L12,10L10.9,11.9L9.6,13.6L8,15.1L6.2,16.2L4.3,17.3L2.5,18.4L0.4,19L-1.7,19.7L-3.9,19.3L-6,18.7L-8,18.2L-9.9,18.1L-11.8,17.4L-13.5,16.6L-15.2,15.8L-16.9,15L-18.3,13.9L-19.7,12.7L-20.8,11.3L-21.9,9.9L-22.8,8.5L-23.8,7.1L-24.8,5.7L-25.7,4.3L-26.6,2.8L-27.6,1.2L-28.5,-0.4L-29.3,-2.1L-30.1,-4L-31.1,-6L-31.4,-8.1L-31.6,-10.3L-31.9,-12.7L-32.1,-15.2L-32.3,-18L-31.4,-20.4L-30.1,-22.6L-28.6,-24.6L-26.5,-26.1L-24.2,-27.1L-21.4,-27.2L-18.6,-26.7L-16,-26L-13.9,-25.9L-11.8,-25.8L-9.9,-26L-8,-26.2L-6,-26.4L-4,-26.5L-1.9,-26.6L0.2,-26.6L2.1,-25.7L3.6,-24.1L4.9,-22.4L5.9,-20.6L6.9,-18.9L8.1,-17.5L9.3,-16.1L10.7,-14.8L12,-13.3L13.2,-11.7L14.3,-10L15.1,-8.1L15.3,-6Z" fill="#009c00" style="mix-blend-mode:lighten"/><path d="M12.9,-4L13.3,-2.1L13.6,-0.2L13.4,1.7L13.3,3.7L12.7,5.7L12.1,7.6L11.1,9.4L10,11.1L8.9,12.9L7.4,14.4L5.6,15.4L3.8,16.5L2,17.6L0,17.9L-2.1,18.2L-4.3,17.3L-6.2,16L-8,15L-9.6,14.4L-11.1,13.7L-12.6,13L-14,12.4L-15.3,11.7L-16.6,10.9L-17.8,10L-18.8,8.9L-19.6,7.6L-20.5,6.5L-21.3,5.3L-22.1,4.2L-22.9,3L-23.7,1.7L-24.6,0.4L-25.4,-0.9L-26,-2.4L-26.7,-4L-27.5,-5.7L-28,-7.5L-28.4,-9.5L-28.9,-11.6L-29.4,-14L-30,-16.7L-29.6,-19.1L-28.6,-21.3L-27.1,-23.1L-25,-24.3L-22.9,-25.2L-20.3,-25.3L-17.7,-24.8L-15.4,-24.4L-13.4,-24.2L-11.5,-24L-9.7,-24L-8,-24L-6.3,-23.9L-4.5,-23.9L-2.7,-23.7L-1,-23.3L0.6,-22.4L2,-21.3L3.2,-20.1L4.2,-18.6L5.1,-17.1L6.2,-15.9L7.3,-14.7L8.4,-13.4L9.4,-12.1L10.4,-10.7L11.3,-9.2L12.1,-7.5L12.7,-5.8Z" fill="#00b400" style="mix-blend-mode:lighten"/><path d="M10.6,-4L11.3,-2.3L12.1,-0.5L12.1,1.4L11.8,3.2L11.5,5.1L11.1,7L10.2,8.7L9.2,10.4L8.1,12.1L6.8,13.6L5.1,14.6L3.4,15.7L1.6,16.7L-0.5,16.7L-2.5,16.7L-4.6,15.2L-6.5,13.4L-8,11.8L-9.3,10.7L-10.5,10.1L-11.6,9.5L-12.7,8.9L-13.8,8.4L-14.9,7.9L-15.9,7.3L-16.7,6.4L-17.4,5.4L-18.1,4.5L-18.8,3.6L-19.5,2.6L-20.1,1.7L-20.8,0.7L-21.6,-0.4L-22.3,-1.5L-22.8,-2.7L-23.3,-4L-23.9,-5.4L-24.6,-6.9L-25.3,-8.6L-26,-10.5L-26.7,-12.7L-27.6,-15.3L-27.7,-17.8L-27.1,-20L-25.7,-21.7L-23.5,-22.5L-21.5,-23.3L-19.2,-23.4L-16.9,-23L-14.8,-22.7L-12.9,-22.4L-11.2,-22.2L-9.6,-22L-8,-21.7L-6.5,-21.5L-5,-21.3L-3.5,-20.7L-2.2,-19.9L-0.9,-19.2L0.3,-18.4L1.6,-17.7L2.5,-16.5L3.4,-15.4L4.3,-14.3L5.2,-13.2L6.1,-12.1L6.9,-10.9L7.6,-9.7L8.4,-8.4L9.2,-7L10,-5.6Z" fill="#00cc00" style="mix-blend-mode:lighten"/><path d="M8.3,-4L9.4,-2.5L10.5,-0.7L10.8,1L10.3,2.7L10.2,4.5L10.2,6.5L9.3,8.1L8.3,9.7L7.4,11.4L6.2,12.9L4.5,13.9L2.9,14.8L1.2,15.8L-0.9,15.5L-2.9,15.2L-5,13.2L-6.7,10.8L-8,8.7L-9,6.9L-9.8,6.4L-10.7,6L-11.5,5.5L-12.2,5.1L-13.1,4.9L-14.1,4.7L-14.7,4L-15.2,3.2L-15.8,2.5L-16.3,1.8L-16.8,1.1L-17.3,0.4L-17.9,-0.4L-18.6,-1.2L-19.2,-2L-19.5,-3L-19.9,-4L-20.3,-5.1L-21.1,-6.3L-22.1,-7.8L-23,-9.5L-24,-11.5L-25.2,-14L-25.8,-16.5L-25.6,-18.7L-24.2,-20.2L-22.1,-20.8L-20.2,-21.5L-18,-21.4L-16,-21.2L-14.2,-21.1L-12.5,-20.7L-10.9,-20.4L-9.4,-19.9L-8,-19.5L-6.7,-19.1L-5.4,-18.7L-4.3,-17.8L-3.4,-16.6L-2.5,-15.9L-1.3,-15.6L-0.1,-15.3L0.8,-14.5L1.7,-13.7L2.4,-12.7L3.1,-11.8L3.8,-10.8L4.3,-9.7L4.8,-8.7L5.4,-7.6L6.2,-6.5L7.3,-5.3Z" fill="#00df00" style="mix-blend-mode:lighten"/><path d="M5.3,-4L6.8,-2.7L8.4,-1.1L9,0.6L8.3,1.9L8.5,3.7L8.9,5.8L8.1,7.3L7.1,8.7L6.5,10.5L5.4,11.9L3.8,12.8L2.2,13.7L0.7,14.6L-1.5,14L-3.4,13.2L-5.4,10.5L-7,7.3L-8,4.4L-8.5,2L-9,1.5L-9.4,1.2L-9.8,1L-10.2,0.7L-10.8,0.8L-11.6,1.1L-12,0.8L-12.3,0.3L-12.6,-0.1L-12.9,-0.6L-13.2,-1L-13.6,-1.4L-14.1,-1.8L-14.6,-2.2L-15,-2.8L-15.2,-3.4L-15.4,-4L-15.6,-4.7L-16.6,-5.5L-17.9,-6.6L-19.1,-8.1L-20.4,-9.8L-22.1,-12.1L-23.3,-14.7L-23.5,-17L-22.3,-18.3L-20.1,-18.4L-18.5,-18.9L-16.6,-18.8L-14.9,-18.8L-13.4,-18.9L-11.9,-18.4L-10.5,-18L-9.2,-17.3L-8,-16.5L-7,-15.9L-6,-15.2L-5.4,-13.8L-5,-12.1L-4.5,-11.5L-3.5,-11.8L-2.3,-12.1L-1.5,-11.8L-0.6,-11.4L-0.2,-10.6L0.3,-9.8L0.7,-9L0.9,-8.1L1.1,-7.3L1.5,-6.5L2.3,-5.8L3.8,-5Z" fill="#00f000" style="mix-blend-mode:lighten"/><path d="M-30,0L-40,-3L-45,-5L-48,-14L-42,-22L-34,-22L-28,-12Z" fill="#00a800" style="mix-blend-mode:lighten"/><path d="M-40,-30L-30,-45L-12,-52L3,-50L12,-44L8,-40L-5,-36L-20,-33L-34,-33Z" fill="#001800" style="mix-blend-mode:lighten"/></g></g>
</defs>
<rect width="1170" height="844" fill="#fff"/>
<g transform="translate(151.2,236.75)">
<g clip-path="url(#cc)"><use href="#f3" filter="url(#fO)"/>
<use href="#land" fill="#efecd9" stroke="#000" stroke-width="2.15" stroke-linejoin="round"/></g>
<circle r="150" fill="none" stroke="#bbb" stroke-width="1.2"/></g>
<g transform="translate(544.7,236.75)">
<g clip-path="url(#cc)"><use href="#f3" filter="url(#fM)"/>
<path d="M71,71L76.1,63.9L83.2,56.1L89.5,60.3L92,63.2L87.2,70.6L80.9,78.2Z" fill="#fff"/>
<path d="M-27.7,-77.1C-25.5,-77.6 -18.4,-80 -14.7,-80C-10.9,-80 -8.4,-78 -5.2,-77.1C-2,-76.2 0.4,-75 4.3,-74.8C8.2,-74.6 16.1,-75.7 18.5,-75.9" fill="none" stroke="#f00" stroke-width="1.6" stroke-linecap="round"/>
<path d="M33.9,-75.9C35.3,-76.3 39.8,-77.1 42.2,-78.3C44.6,-79.5 46.5,-81.8 48.1,-83C49.7,-84.2 50.1,-84.3 51.7,-85.4C53.3,-86.5 56.6,-89 57.6,-89.7" fill="none" stroke="#f00" stroke-width="1.6" stroke-linecap="round"/>
<path d="M-78.7,59.1C-78.1,57.9 -76.5,54.8 -75.1,52C-73.7,49.2 -72.2,45.1 -70.4,42.5C-68.6,39.9 -66.6,37.9 -64.4,36.6C-62.2,35.4 -59.5,35.3 -57.3,35C-55.1,34.7 -52.4,34.8 -51.4,34.7" fill="none" stroke="#f00" stroke-width="1.6" stroke-linecap="round"/>
<path d="M-49,52.5C-46.8,52 -40.9,50.3 -36,49.6C-31.1,48.9 -23.8,50.1 -19.4,48.5C-15,46.9 -12.5,42.8 -9.9,40.2C-7.3,37.6 -5.8,35.5 -4,33.1C-2.2,30.7 -0.7,27.1 0.7,25.9C2.1,24.7 3.1,24.7 4.3,25.9C5.5,27.1 6.6,31.4 7.8,33C9,34.6 9.6,35.8 11.4,35.4C13.2,35 16.5,32.5 18.5,30.7C20.5,28.9 21.8,26.5 23.2,24.8C24.6,23.1 25.4,20.3 26.8,20.5C28.2,20.7 29.9,24 31.5,25.9C33.1,27.8 35.4,29.5 36.3,31.9C37.2,34.3 36.6,38.8 36.7,40.2" fill="none" stroke="#f00" stroke-width="1.6" stroke-linecap="round"/>
<use href="#land" fill="#efecd9" stroke="#000" stroke-width="1.8" stroke-linejoin="round"/></g>
<circle r="150" fill="none" stroke="#bbb" stroke-width="1.2"/></g>
<g transform="translate(938.5,236.75)">
<g clip-path="url(#cc)"><use href="#f3" filter="url(#fD)"/>
<path d="M71,71L76.1,63.9L83.2,56.1L89.5,60.3L92,63.2L87.2,70.6L80.9,78.2Z" fill="#fff"/>
<use href="#land" fill="#efecd9" stroke="#000" stroke-width="1.8" stroke-linejoin="round"/></g>
<circle r="150" fill="none" stroke="#bbb" stroke-width="1.2"/></g>
<g transform="translate(151.2,686.75)">
<g clip-path="url(#cc)"><use href="#f9" filter="url(#fO)"/>
<use href="#land" fill="#efecd9" stroke="#000" stroke-width="1.8" stroke-linejoin="round"/></g>
<circle r="150" fill="none" stroke="#bbb" stroke-width="1.2"/></g>
<g transform="translate(544.7,686.75)">
<g clip-path="url(#cc)"><use href="#f9" filter="url(#fM)"/>
<path d="M71,71L76.1,63.9L83.2,56.1L89.5,60.3L92,63.2L87.2,70.6L80.9,78.2Z" fill="#fff"/>
<path d="M-36.7,-28.9C-36.2,-29.8 -35,-32.9 -33.7,-34.2C-32.4,-35.5 -30.6,-36.3 -29,-36.6C-27.4,-36.9 -25.8,-36.5 -24.2,-36C-22.6,-35.5 -21.3,-33.9 -19.5,-33.6C-17.7,-33.3 -15.8,-33.6 -13.6,-34.2C-11.4,-34.8 -8.7,-36.4 -6.5,-37.2C-4.3,-38 -2.3,-38.2 -0.6,-39C1.2,-39.8 2.8,-41.3 4.2,-41.9C5.6,-42.5 6.7,-42.8 7.7,-42.5C8.7,-42.2 9.3,-41.6 10.1,-40.2C10.9,-38.8 11.7,-36.4 12.5,-34.2C13.3,-32 13.7,-29.1 14.8,-27.1C16,-25.1 17.8,-24 19.6,-22.4C21.4,-20.8 24,-19.2 25.5,-17.6C27,-16.1 27.9,-14.3 28.5,-12.9C29.1,-11.5 29.8,-11.4 29.1,-9.4C28.4,-7.4 25.7,-3.3 24.3,-1.1C22.9,1.1 21.2,2.2 20.8,3.7C20.4,5.2 22.6,6.6 22,7.8C21.4,9 18.4,9.5 17.2,10.8C16,12.1 16,14.1 14.8,15.5C13.7,16.9 11.9,17.9 10.1,19.1C8.3,20.3 6,21.2 4.2,22.6C2.4,24 1.2,25.8 -0.6,27.4C-2.3,29 -4.6,30.7 -6.5,32.1C-8.4,33.5 -10.9,35.1 -11.8,35.7" fill="none" stroke="#f00" stroke-width="1.6" stroke-linecap="round"/>
<use href="#land" fill="#efecd9" stroke="#000" stroke-width="1.8" stroke-linejoin="round"/></g>
<circle r="150" fill="none" stroke="#bbb" stroke-width="1.2"/></g>
<g transform="translate(938.5,686.75)">
<g clip-path="url(#cc)"><use href="#f9" filter="url(#fD)"/>
<path d="M71,71L76.1,63.9L83.2,56.1L89.5,60.3L92,63.2L87.2,70.6L80.9,78.2Z" fill="#fff"/>
<use href="#land" fill="#efecd9" stroke="#000" stroke-width="1.8" stroke-linejoin="round"/></g>
<circle r="150" fill="none" stroke="#bbb" stroke-width="1.2"/></g>
<rect x="314.2" y="366.8" width="14.9" height="20.3" fill="#28598c"/><rect x="314.2" y="346.8" width="14.9" height="20.3" fill="#4583b2"/><rect x="314.2" y="326.8" width="14.9" height="20.3" fill="#64b1d9"/><rect x="314.2" y="306.8" width="14.9" height="20.3" fill="#6fb6de"/><rect x="314.2" y="286.8" width="14.9" height="20.3" fill="#7bbbe3"/><rect x="314.2" y="266.8" width="14.9" height="20.3" fill="#87c2e9"/><rect x="314.2" y="246.8" width="14.9" height="20.3" fill="#93c9ef"/><rect x="314.2" y="226.8" width="14.9" height="20.3" fill="#a0d0f5"/><rect x="314.2" y="206.8" width="14.9" height="20.3" fill="#b0d7f8"/><rect x="314.2" y="186.8" width="14.9" height="20.3" fill="#bfdefb"/><rect x="314.2" y="166.8" width="14.9" height="20.3" fill="#cbe4fd"/><rect x="314.2" y="146.8" width="14.9" height="20.3" fill="#d8ebfe"/><rect x="314.2" y="126.8" width="14.9" height="20.3" fill="#e4f1ff"/><rect x="314.2" y="106.8" width="14.9" height="20.3" fill="#f2f8ff"/><rect x="314.2" y="86.8" width="14.9" height="20.3" fill="#ffffff"/><rect x="314.2" y="86.75" width="14.9" height="300.0" fill="none" stroke="#cdd0d3" stroke-width="1.4"/>
<text class="k" x="333.9" y="391.1">0.0</text>
<text class="k" x="333.9" y="361.1">0.1</text>
<text class="k" x="333.9" y="331.1">0.2</text>
<text class="k" x="333.9" y="301.1">0.3</text>
<text class="k" x="333.9" y="271.1">0.4</text>
<text class="k" x="333.9" y="241.1">0.5</text>
<text class="k" x="333.9" y="211.1">0.6</text>
<text class="k" x="333.9" y="181.1">0.7</text>
<text class="k" x="333.9" y="151.1">0.8</text>
<text class="k" x="333.9" y="121">0.9</text>
<text class="k" x="333.9" y="91">1.0</text>
<text class="l" x="-70" textLength="140" lengthAdjust="spacingAndGlyphs" transform="translate(371.9,237) rotate(-90)">Sea-ice fraction [0-1]</text>
<rect x="708.2" y="366.8" width="14.9" height="20.3" fill="#28598c"/><rect x="708.2" y="346.8" width="14.9" height="20.3" fill="#4583b2"/><rect x="708.2" y="326.8" width="14.9" height="20.3" fill="#64b1d9"/><rect x="708.2" y="306.8" width="14.9" height="20.3" fill="#6fb6de"/><rect x="708.2" y="286.8" width="14.9" height="20.3" fill="#7bbbe3"/><rect x="708.2" y="266.8" width="14.9" height="20.3" fill="#87c2e9"/><rect x="708.2" y="246.8" width="14.9" height="20.3" fill="#93c9ef"/><rect x="708.2" y="226.8" width="14.9" height="20.3" fill="#a0d0f5"/><rect x="708.2" y="206.8" width="14.9" height="20.3" fill="#b0d7f8"/><rect x="708.2" y="186.8" width="14.9" height="20.3" fill="#bfdefb"/><rect x="708.2" y="166.8" width="14.9" height="20.3" fill="#cbe4fd"/><rect x="708.2" y="146.8" width="14.9" height="20.3" fill="#d8ebfe"/><rect x="708.2" y="126.8" width="14.9" height="20.3" fill="#e4f1ff"/><rect x="708.2" y="106.8" width="14.9" height="20.3" fill="#f2f8ff"/><rect x="708.2" y="86.8" width="14.9" height="20.3" fill="#ffffff"/><rect x="708.2" y="86.75" width="14.9" height="300.0" fill="none" stroke="#cdd0d3" stroke-width="1.4"/>
<text class="k" x="727.9" y="391.1">0.0</text>
<text class="k" x="727.9" y="361.1">0.1</text>
<text class="k" x="727.9" y="331.1">0.2</text>
<text class="k" x="727.9" y="301.1">0.3</text>
<text class="k" x="727.9" y="271.1">0.4</text>
<text class="k" x="727.9" y="241.1">0.5</text>
<text class="k" x="727.9" y="211.1">0.6</text>
<text class="k" x="727.9" y="181.1">0.7</text>
<text class="k" x="727.9" y="151.1">0.8</text>
<text class="k" x="727.9" y="121">0.9</text>
<text class="k" x="727.9" y="91">1.0</text>
<text class="l" x="-70" textLength="140" lengthAdjust="spacingAndGlyphs" transform="translate(765.9000000000001,237) rotate(-90)">Sea-ice fraction [0-1]</text>
<rect x="1102" y="362.6" width="15" height="10.8" fill="#0f437b"/><rect x="1102" y="352.1" width="15" height="10.8" fill="#195696"/><rect x="1102" y="341.6" width="15" height="10.8" fill="#246aae"/><rect x="1102" y="331.2" width="15" height="10.8" fill="#307ab6"/><rect x="1102" y="320.7" width="15" height="10.8" fill="#3e8cbf"/><rect x="1102" y="310.2" width="15" height="10.8" fill="#529dc8"/><rect x="1102" y="299.7" width="15" height="10.8" fill="#71b0d3"/><rect x="1102" y="289.2" width="15" height="10.8" fill="#8dc2dc"/><rect x="1102" y="278.7" width="15" height="10.8" fill="#a7d0e4"/><rect x="1102" y="268.2" width="15" height="10.8" fill="#bddbea"/><rect x="1102" y="257.7" width="15" height="10.8" fill="#d4e6f1"/><rect x="1102" y="247.2" width="15" height="10.8" fill="#e1edf3"/><rect x="1102" y="236.8" width="15" height="10.8" fill="#f0f4f6"/><rect x="1102" y="226.3" width="15" height="10.8" fill="#f8f2ef"/><rect x="1102" y="215.8" width="15" height="10.8" fill="#fae7dc"/><rect x="1102" y="205.3" width="15" height="10.8" fill="#fdddcb"/><rect x="1102" y="194.8" width="15" height="10.8" fill="#facab1"/><rect x="1102" y="184.3" width="15" height="10.8" fill="#f7b799"/><rect x="1102" y="173.8" width="15" height="10.8" fill="#f2a17f"/><rect x="1102" y="163.3" width="15" height="10.8" fill="#e8896c"/><rect x="1102" y="152.8" width="15" height="10.8" fill="#dc6e57"/><rect x="1102" y="142.3" width="15" height="10.8" fill="#d05548"/><rect x="1102" y="131.9" width="15" height="10.8" fill="#c2383a"/><rect x="1102" y="121.4" width="15" height="10.8" fill="#b61f2e"/><rect x="1102" y="110.9" width="15" height="10.8" fill="#9c1127"/><rect x="1102" y="100.4" width="15" height="10.8" fill="#810823"/><path d="M1102,100.6 L1109.5,86.8 L1117,100.6 Z" fill="#67001f"/><path d="M1102,372.9 L1109.5,386.8 L1117,372.9 Z" fill="#053061"/><path d="M1102,100.4 L1109.5,86.8 L1117,100.4 L1117,373.1 L1109.5,386.8 L1102,373.1 Z" fill="none" stroke="#cdd0d3" stroke-width="1.4"/>
<text class="k" x="1121.7" y="377.4">−1.0</text>
<text class="k" x="1121.7" y="350.1">−0.8</text>
<text class="k" x="1121.7" y="322.9">−0.6</text>
<text class="k" x="1121.7" y="295.6">−0.4</text>
<text class="k" x="1121.7" y="268.3">−0.2</text>
<text class="k" x="1121.7" y="241.1">0.0</text>
<text class="k" x="1121.7" y="213.8">0.2</text>
<text class="k" x="1121.7" y="186.5">0.4</text>
<text class="k" x="1121.7" y="159.3">0.6</text>
<text class="k" x="1121.7" y="132">0.8</text>
<text class="k" x="1121.7" y="104.7">1.0</text>
<text class="l" x="-70" textLength="140" lengthAdjust="spacingAndGlyphs" transform="translate(1165.5,237) rotate(-90)">Sea-ice fraction [0-1]</text>
<rect x="314.2" y="816.8" width="14.9" height="20.3" fill="#28598c"/><rect x="314.2" y="796.8" width="14.9" height="20.3" fill="#4583b2"/><rect x="314.2" y="776.8" width="14.9" height="20.3" fill="#64b1d9"/><rect x="314.2" y="756.8" width="14.9" height="20.3" fill="#6fb6de"/><rect x="314.2" y="736.8" width="14.9" height="20.3" fill="#7bbbe3"/><rect x="314.2" y="716.8" width="14.9" height="20.3" fill="#87c2e9"/><rect x="314.2" y="696.8" width="14.9" height="20.3" fill="#93c9ef"/><rect x="314.2" y="676.8" width="14.9" height="20.3" fill="#a0d0f5"/><rect x="314.2" y="656.8" width="14.9" height="20.3" fill="#b0d7f8"/><rect x="314.2" y="636.8" width="14.9" height="20.3" fill="#bfdefb"/><rect x="314.2" y="616.8" width="14.9" height="20.3" fill="#cbe4fd"/><rect x="314.2" y="596.8" width="14.9" height="20.3" fill="#d8ebfe"/><rect x="314.2" y="576.8" width="14.9" height="20.3" fill="#e4f1ff"/><rect x="314.2" y="556.8" width="14.9" height="20.3" fill="#f2f8ff"/><rect x="314.2" y="536.8" width="14.9" height="20.3" fill="#ffffff"/><rect x="314.2" y="536.75" width="14.9" height="300.0" fill="none" stroke="#cdd0d3" stroke-width="1.4"/>
<text class="k" x="333.9" y="841">0.0</text>
<text class="k" x="333.9" y="811">0.1</text>
<text class="k" x="333.9" y="781">0.2</text>
<text class="k" x="333.9" y="751">0.3</text>
<text class="k" x="333.9" y="721">0.4</text>
<text class="k" x="333.9" y="691">0.5</text>
<text class="k" x="333.9" y="661">0.6</text>
<text class="k" x="333.9" y="631">0.7</text>
<text class="k" x="333.9" y="601">0.8</text>
<text class="k" x="333.9" y="571">0.9</text>
<text class="k" x="333.9" y="541">1.0</text>
<text class="l" x="-70" textLength="140" lengthAdjust="spacingAndGlyphs" transform="translate(371.9,687) rotate(-90)">Sea-ice fraction [0-1]</text>
<rect x="708.2" y="816.8" width="14.9" height="20.3" fill="#28598c"/><rect x="708.2" y="796.8" width="14.9" height="20.3" fill="#4583b2"/><rect x="708.2" y="776.8" width="14.9" height="20.3" fill="#64b1d9"/><rect x="708.2" y="756.8" width="14.9" height="20.3" fill="#6fb6de"/><rect x="708.2" y="736.8" width="14.9" height="20.3" fill="#7bbbe3"/><rect x="708.2" y="716.8" width="14.9" height="20.3" fill="#87c2e9"/><rect x="708.2" y="696.8" width="14.9" height="20.3" fill="#93c9ef"/><rect x="708.2" y="676.8" width="14.9" height="20.3" fill="#a0d0f5"/><rect x="708.2" y="656.8" width="14.9" height="20.3" fill="#b0d7f8"/><rect x="708.2" y="636.8" width="14.9" height="20.3" fill="#bfdefb"/><rect x="708.2" y="616.8" width="14.9" height="20.3" fill="#cbe4fd"/><rect x="708.2" y="596.8" width="14.9" height="20.3" fill="#d8ebfe"/><rect x="708.2" y="576.8" width="14.9" height="20.3" fill="#e4f1ff"/><rect x="708.2" y="556.8" width="14.9" height="20.3" fill="#f2f8ff"/><rect x="708.2" y="536.8" width="14.9" height="20.3" fill="#ffffff"/><rect x="708.2" y="536.75" width="14.9" height="300.0" fill="none" stroke="#cdd0d3" stroke-width="1.4"/>
<text class="k" x="727.9" y="841">0.0</text>
<text class="k" x="727.9" y="811">0.1</text>
<text class="k" x="727.9" y="781">0.2</text>
<text class="k" x="727.9" y="751">0.3</text>
<text class="k" x="727.9" y="721">0.4</text>
<text class="k" x="727.9" y="691">0.5</text>
<text class="k" x="727.9" y="661">0.6</text>
<text class="k" x="727.9" y="631">0.7</text>
<text class="k" x="727.9" y="601">0.8</text>
<text class="k" x="727.9" y="571">0.9</text>
<text class="k" x="727.9" y="541">1.0</text>
<text class="l" x="-70" textLength="140" lengthAdjust="spacingAndGlyphs" transform="translate(765.9000000000001,687) rotate(-90)">Sea-ice fraction [0-1]</text>
<rect x="1102" y="812.6" width="15" height="10.8" fill="#0f437b"/><rect x="1102" y="802.1" width="15" height="10.8" fill="#195696"/><rect x="1102" y="791.6" width="15" height="10.8" fill="#246aae"/><rect x="1102" y="781.2" width="15" height="10.8" fill="#307ab6"/><rect x="1102" y="770.7" width="15" height="10.8" fill="#3e8cbf"/><rect x="1102" y="760.2" width="15" height="10.8" fill="#529dc8"/><rect x="1102" y="749.7" width="15" height="10.8" fill="#71b0d3"/><rect x="1102" y="739.2" width="15" height="10.8" fill="#8dc2dc"/><rect x="1102" y="728.7" width="15" height="10.8" fill="#a7d0e4"/><rect x="1102" y="718.2" width="15" height="10.8" fill="#bddbea"/><rect x="1102" y="707.7" width="15" height="10.8" fill="#d4e6f1"/><rect x="1102" y="697.2" width="15" height="10.8" fill="#e1edf3"/><rect x="1102" y="686.8" width="15" height="10.8" fill="#f0f4f6"/><rect x="1102" y="676.3" width="15" height="10.8" fill="#f8f2ef"/><rect x="1102" y="665.8" width="15" height="10.8" fill="#fae7dc"/><rect x="1102" y="655.3" width="15" height="10.8" fill="#fdddcb"/><rect x="1102" y="644.8" width="15" height="10.8" fill="#facab1"/><rect x="1102" y="634.3" width="15" height="10.8" fill="#f7b799"/><rect x="1102" y="623.8" width="15" height="10.8" fill="#f2a17f"/><rect x="1102" y="613.3" width="15" height="10.8" fill="#e8896c"/><rect x="1102" y="602.8" width="15" height="10.8" fill="#dc6e57"/><rect x="1102" y="592.3" width="15" height="10.8" fill="#d05548"/><rect x="1102" y="581.9" width="15" height="10.8" fill="#c2383a"/><rect x="1102" y="571.4" width="15" height="10.8" fill="#b61f2e"/><rect x="1102" y="560.9" width="15" height="10.8" fill="#9c1127"/><rect x="1102" y="550.4" width="15" height="10.8" fill="#810823"/><path d="M1102,550.6 L1109.5,536.8 L1117,550.6 Z" fill="#67001f"/><path d="M1102,822.9 L1109.5,836.8 L1117,822.9 Z" fill="#053061"/><path d="M1102,550.4 L1109.5,536.8 L1117,550.4 L1117,823.1 L1109.5,836.8 L1102,823.1 Z" fill="none" stroke="#cdd0d3" stroke-width="1.4"/>
<text class="k" x="1121.7" y="827.4">−1.0</text>
<text class="k" x="1121.7" y="800.1">−0.8</text>
<text class="k" x="1121.7" y="772.9">−0.6</text>
<text class="k" x="1121.7" y="745.6">−0.4</text>
<text class="k" x="1121.7" y="718.3">−0.2</text>
<text class="k" x="1121.7" y="691.1">0.0</text>
<text class="k" x="1121.7" y="663.8">0.2</text>
<text class="k" x="1121.7" y="636.5">0.4</text>
<text class="k" x="1121.7" y="609.2">0.6</text>
<text class="k" x="1121.7" y="582">0.8</text>
<text class="k" x="1121.7" y="554.7">1.0</text>
<text class="l" x="-70" textLength="140" lengthAdjust="spacingAndGlyphs" transform="translate(1165.5,687) rotate(-90)">Sea-ice fraction [0-1]</text>
<text class="t" x="357.8" y="16.2" textLength="365" lengthAdjust="spacingAndGlyphs">Sea ice fraction over Arctic. Month: March</text>
<text class="t" x="336.9" y="466.2" textLength="408" lengthAdjust="spacingAndGlyphs">Sea ice fraction over Arctic. Month: September</text>
<text class="p" x="76.6" y="69.3" textLength="152.6" lengthAdjust="spacingAndGlyphs">OSI-SAF osi-saf-aqua</text>
<text class="p" x="483.6" y="69.3" textLength="124.8" lengthAdjust="spacingAndGlyphs">EC-EARTH4 JK01</text>
<text class="p" x="860.2" y="69.3" textLength="160.7" lengthAdjust="spacingAndGlyphs" xml:space="preserve">EC-EARTH4 -  OSI-SAF</text>
<text class="p" x="76.6" y="519.4" textLength="152.6" lengthAdjust="spacingAndGlyphs">OSI-SAF osi-saf-aqua</text>
<text class="p" x="483.6" y="519.4" textLength="124.8" lengthAdjust="spacingAndGlyphs">EC-EARTH4 JK01</text>
<text class="p" x="860.2" y="519.4" textLength="160.7" lengthAdjust="spacingAndGlyphs" xml:space="preserve">EC-EARTH4 -  OSI-SAF</text>
</svg></body></html>
